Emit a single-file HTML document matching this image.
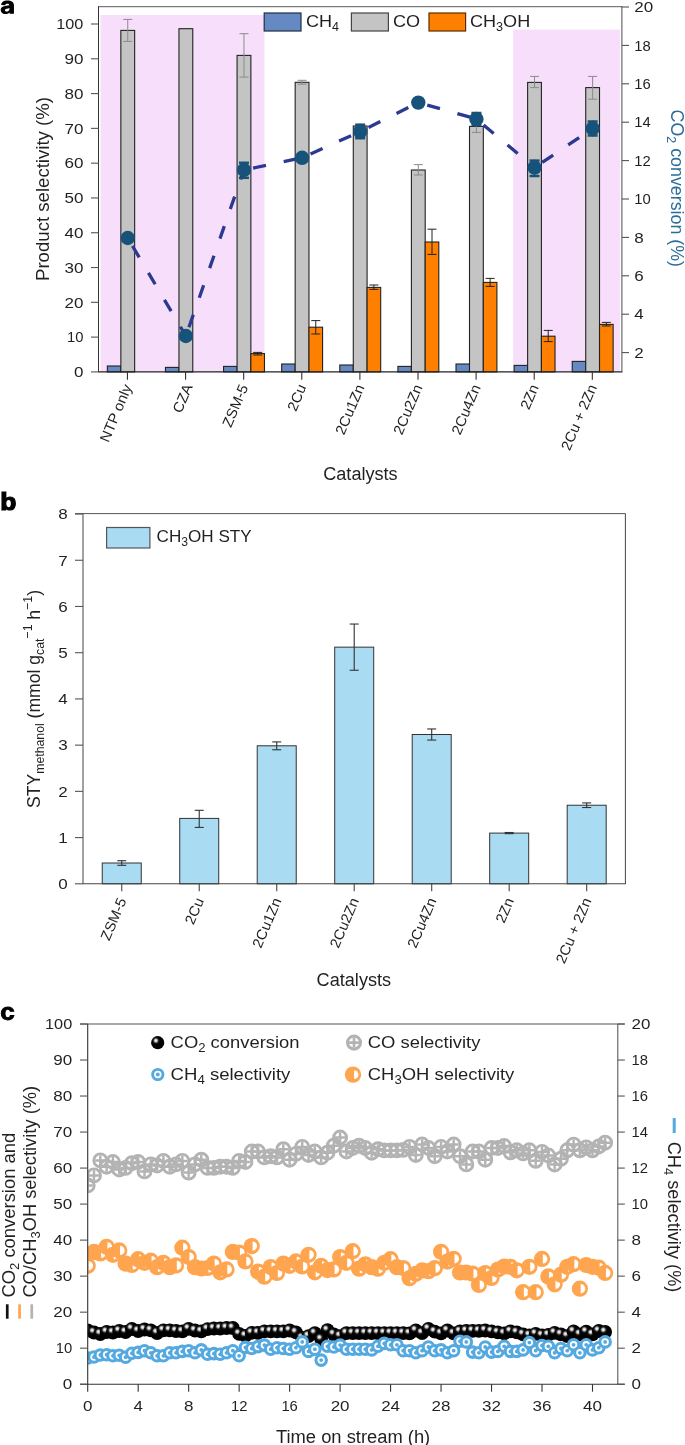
<!DOCTYPE html>
<html><head><meta charset="utf-8"><style>
html,body{margin:0;padding:0;background:#fff;}
svg{display:block;font-family:"Liberation Sans",sans-serif;will-change:transform;}
</style></head><body>
<svg width="685" height="1445" viewBox="0 0 685 1445">
<rect width="685" height="1445" fill="#fff"/>
<rect x="100.50" y="15.00" width="164.00" height="356.60" fill="#f7dffc" />
<rect x="513.20" y="29.60" width="106.80" height="342.00" fill="#f7dffc" />
<rect x="107.35" y="366.00" width="13.50" height="5.90" fill="#6589c3" stroke="#222" stroke-width="1.1" />
<rect x="120.85" y="30.40" width="13.80" height="341.50" fill="#c4c4c4" stroke="#222" stroke-width="1.1" />
<line x1="127.75" y1="19.40" x2="127.75" y2="41.40" stroke="#8a8a8a" stroke-width="1" />
<line x1="123.25" y1="19.40" x2="132.25" y2="19.40" stroke="#8a8a8a" stroke-width="1" />
<line x1="123.25" y1="41.40" x2="132.25" y2="41.40" stroke="#8a8a8a" stroke-width="1" />
<rect x="165.46" y="367.40" width="13.50" height="4.50" fill="#6589c3" stroke="#222" stroke-width="1.1" />
<rect x="178.96" y="28.70" width="13.80" height="343.20" fill="#c4c4c4" stroke="#222" stroke-width="1.1" />
<rect x="223.57" y="366.40" width="13.50" height="5.50" fill="#6589c3" stroke="#222" stroke-width="1.1" />
<rect x="237.07" y="55.40" width="13.80" height="316.50" fill="#c4c4c4" stroke="#222" stroke-width="1.1" />
<line x1="243.97" y1="33.70" x2="243.97" y2="77.10" stroke="#8a8a8a" stroke-width="1" />
<line x1="239.47" y1="33.70" x2="248.47" y2="33.70" stroke="#8a8a8a" stroke-width="1" />
<line x1="239.47" y1="77.10" x2="248.47" y2="77.10" stroke="#8a8a8a" stroke-width="1" />
<rect x="250.87" y="353.60" width="13.60" height="18.30" fill="#ff8000" stroke="#222" stroke-width="1.1" />
<line x1="257.67" y1="352.40" x2="257.67" y2="355.00" stroke="#222" stroke-width="1" />
<line x1="253.17" y1="352.40" x2="262.17" y2="352.40" stroke="#222" stroke-width="1" />
<line x1="253.17" y1="355.00" x2="262.17" y2="355.00" stroke="#222" stroke-width="1" />
<rect x="281.68" y="364.00" width="13.50" height="7.90" fill="#6589c3" stroke="#222" stroke-width="1.1" />
<rect x="295.18" y="82.30" width="13.80" height="289.60" fill="#c4c4c4" stroke="#222" stroke-width="1.1" />
<line x1="302.08" y1="80.30" x2="302.08" y2="84.20" stroke="#8a8a8a" stroke-width="1" />
<line x1="297.58" y1="80.30" x2="306.58" y2="80.30" stroke="#8a8a8a" stroke-width="1" />
<line x1="297.58" y1="84.20" x2="306.58" y2="84.20" stroke="#8a8a8a" stroke-width="1" />
<rect x="308.98" y="327.20" width="13.60" height="44.70" fill="#ff8000" stroke="#222" stroke-width="1.1" />
<line x1="315.78" y1="320.60" x2="315.78" y2="334.00" stroke="#222" stroke-width="1" />
<line x1="311.28" y1="320.60" x2="320.28" y2="320.60" stroke="#222" stroke-width="1" />
<line x1="311.28" y1="334.00" x2="320.28" y2="334.00" stroke="#222" stroke-width="1" />
<rect x="339.79" y="365.00" width="13.50" height="6.90" fill="#6589c3" stroke="#222" stroke-width="1.1" />
<rect x="353.29" y="126.00" width="13.80" height="245.90" fill="#c4c4c4" stroke="#222" stroke-width="1.1" />
<rect x="367.09" y="287.40" width="13.60" height="84.50" fill="#ff8000" stroke="#222" stroke-width="1.1" />
<line x1="373.89" y1="285.00" x2="373.89" y2="289.40" stroke="#222" stroke-width="1" />
<line x1="369.39" y1="285.00" x2="378.39" y2="285.00" stroke="#222" stroke-width="1" />
<line x1="369.39" y1="289.40" x2="378.39" y2="289.40" stroke="#222" stroke-width="1" />
<rect x="397.90" y="366.40" width="13.50" height="5.50" fill="#6589c3" stroke="#222" stroke-width="1.1" />
<rect x="411.40" y="170.00" width="13.80" height="201.90" fill="#c4c4c4" stroke="#222" stroke-width="1.1" />
<line x1="418.30" y1="164.60" x2="418.30" y2="175.00" stroke="#8a8a8a" stroke-width="1" />
<line x1="413.80" y1="164.60" x2="422.80" y2="164.60" stroke="#8a8a8a" stroke-width="1" />
<line x1="413.80" y1="175.00" x2="422.80" y2="175.00" stroke="#8a8a8a" stroke-width="1" />
<rect x="425.20" y="242.00" width="13.60" height="129.90" fill="#ff8000" stroke="#222" stroke-width="1.1" />
<line x1="432.00" y1="229.20" x2="432.00" y2="254.40" stroke="#222" stroke-width="1" />
<line x1="427.50" y1="229.20" x2="436.50" y2="229.20" stroke="#222" stroke-width="1" />
<line x1="427.50" y1="254.40" x2="436.50" y2="254.40" stroke="#222" stroke-width="1" />
<rect x="456.01" y="364.00" width="13.50" height="7.90" fill="#6589c3" stroke="#222" stroke-width="1.1" />
<rect x="469.51" y="126.40" width="13.80" height="245.50" fill="#c4c4c4" stroke="#222" stroke-width="1.1" />
<line x1="476.41" y1="120.50" x2="476.41" y2="132.40" stroke="#8a8a8a" stroke-width="1" />
<line x1="471.91" y1="120.50" x2="480.91" y2="120.50" stroke="#8a8a8a" stroke-width="1" />
<line x1="471.91" y1="132.40" x2="480.91" y2="132.40" stroke="#8a8a8a" stroke-width="1" />
<rect x="483.31" y="282.40" width="13.60" height="89.50" fill="#ff8000" stroke="#222" stroke-width="1.1" />
<line x1="490.11" y1="278.40" x2="490.11" y2="286.40" stroke="#222" stroke-width="1" />
<line x1="485.61" y1="278.40" x2="494.61" y2="278.40" stroke="#222" stroke-width="1" />
<line x1="485.61" y1="286.40" x2="494.61" y2="286.40" stroke="#222" stroke-width="1" />
<rect x="514.12" y="365.40" width="13.50" height="6.50" fill="#6589c3" stroke="#222" stroke-width="1.1" />
<rect x="527.62" y="82.40" width="13.80" height="289.50" fill="#c4c4c4" stroke="#222" stroke-width="1.1" />
<line x1="534.52" y1="76.40" x2="534.52" y2="87.60" stroke="#8a8a8a" stroke-width="1" />
<line x1="530.02" y1="76.40" x2="539.02" y2="76.40" stroke="#8a8a8a" stroke-width="1" />
<line x1="530.02" y1="87.60" x2="539.02" y2="87.60" stroke="#8a8a8a" stroke-width="1" />
<rect x="541.42" y="336.20" width="13.60" height="35.70" fill="#ff8000" stroke="#222" stroke-width="1.1" />
<line x1="548.22" y1="330.40" x2="548.22" y2="341.60" stroke="#222" stroke-width="1" />
<line x1="543.72" y1="330.40" x2="552.72" y2="330.40" stroke="#222" stroke-width="1" />
<line x1="543.72" y1="341.60" x2="552.72" y2="341.60" stroke="#222" stroke-width="1" />
<rect x="572.23" y="361.40" width="13.50" height="10.50" fill="#6589c3" stroke="#222" stroke-width="1.1" />
<rect x="585.73" y="87.60" width="13.80" height="284.30" fill="#c4c4c4" stroke="#222" stroke-width="1.1" />
<line x1="592.63" y1="76.40" x2="592.63" y2="99.20" stroke="#8a8a8a" stroke-width="1" />
<line x1="588.13" y1="76.40" x2="597.13" y2="76.40" stroke="#8a8a8a" stroke-width="1" />
<line x1="588.13" y1="99.20" x2="597.13" y2="99.20" stroke="#8a8a8a" stroke-width="1" />
<rect x="599.53" y="324.40" width="13.60" height="47.50" fill="#ff8000" stroke="#222" stroke-width="1.1" />
<line x1="606.33" y1="322.40" x2="606.33" y2="326.00" stroke="#222" stroke-width="1" />
<line x1="601.83" y1="322.40" x2="610.83" y2="322.40" stroke="#222" stroke-width="1" />
<line x1="601.83" y1="326.00" x2="610.83" y2="326.00" stroke="#222" stroke-width="1" />
<line x1="127.75" y1="238.00" x2="185.86" y2="336.00" stroke="#2b3990" stroke-width="3.3" stroke-dasharray="13.2 18.1" stroke-dashoffset="22"/>
<line x1="185.86" y1="336.00" x2="243.97" y2="170.00" stroke="#2b3990" stroke-width="3.3" stroke-dasharray="13.2 18.1" stroke-dashoffset="22"/>
<line x1="243.97" y1="170.00" x2="302.08" y2="157.80" stroke="#2b3990" stroke-width="3.3" stroke-dasharray="13.2 18.1" stroke-dashoffset="22"/>
<line x1="302.08" y1="157.80" x2="360.19" y2="131.60" stroke="#2b3990" stroke-width="3.3" stroke-dasharray="13.2 18.1" stroke-dashoffset="22"/>
<line x1="360.19" y1="131.60" x2="418.30" y2="102.60" stroke="#2b3990" stroke-width="3.3" stroke-dasharray="13.2 18.1" stroke-dashoffset="22"/>
<line x1="418.30" y1="102.60" x2="476.41" y2="119.00" stroke="#2b3990" stroke-width="3.3" stroke-dasharray="13.2 18.1" stroke-dashoffset="22"/>
<line x1="476.41" y1="119.00" x2="534.52" y2="167.60" stroke="#2b3990" stroke-width="3.3" stroke-dasharray="13.2 18.1" stroke-dashoffset="22"/>
<line x1="534.52" y1="167.60" x2="592.63" y2="128.50" stroke="#2b3990" stroke-width="3.3" stroke-dasharray="13.2 18.1" stroke-dashoffset="22"/>
<circle cx="127.75" cy="238.00" r="7.2" fill="#17527a"/>
<circle cx="185.86" cy="336.00" r="7.2" fill="#17527a"/>
<line x1="243.97" y1="161.80" x2="243.97" y2="178.80" stroke="#17527a" stroke-width="1.5" />
<line x1="238.97" y1="162.80" x2="248.97" y2="162.80" stroke="#17527a" stroke-width="2.5" />
<line x1="238.97" y1="177.80" x2="248.97" y2="177.80" stroke="#17527a" stroke-width="2.5" />
<circle cx="243.97" cy="170.00" r="7.2" fill="#17527a"/>
<circle cx="302.08" cy="157.80" r="7.2" fill="#17527a"/>
<line x1="360.19" y1="123.70" x2="360.19" y2="139.20" stroke="#17527a" stroke-width="1.5" />
<line x1="355.19" y1="124.70" x2="365.19" y2="124.70" stroke="#17527a" stroke-width="2.5" />
<line x1="355.19" y1="138.20" x2="365.19" y2="138.20" stroke="#17527a" stroke-width="2.5" />
<circle cx="360.19" cy="131.60" r="7.2" fill="#17527a"/>
<circle cx="418.30" cy="102.60" r="7.2" fill="#17527a"/>
<line x1="476.41" y1="112.00" x2="476.41" y2="126.00" stroke="#17527a" stroke-width="1.5" />
<line x1="471.41" y1="113.00" x2="481.41" y2="113.00" stroke="#17527a" stroke-width="2.5" />
<line x1="471.41" y1="125.00" x2="481.41" y2="125.00" stroke="#17527a" stroke-width="2.5" />
<circle cx="476.41" cy="119.00" r="7.2" fill="#17527a"/>
<line x1="534.52" y1="159.60" x2="534.52" y2="177.00" stroke="#17527a" stroke-width="1.5" />
<line x1="529.52" y1="160.60" x2="539.52" y2="160.60" stroke="#17527a" stroke-width="2.5" />
<line x1="529.52" y1="176.00" x2="539.52" y2="176.00" stroke="#17527a" stroke-width="2.5" />
<circle cx="534.52" cy="167.60" r="7.2" fill="#17527a"/>
<line x1="592.63" y1="120.50" x2="592.63" y2="136.50" stroke="#17527a" stroke-width="1.5" />
<line x1="587.63" y1="121.50" x2="597.63" y2="121.50" stroke="#17527a" stroke-width="2.5" />
<line x1="587.63" y1="135.50" x2="597.63" y2="135.50" stroke="#17527a" stroke-width="2.5" />
<circle cx="592.63" cy="128.50" r="7.2" fill="#17527a"/>
<line x1="98.00" y1="6.70" x2="622.00" y2="6.70" stroke="#5a5a5a" stroke-width="1.0" />
<line x1="98.50" y1="6.20" x2="98.50" y2="371.60" stroke="#333" stroke-width="1.0" />
<line x1="621.90" y1="6.20" x2="621.90" y2="371.60" stroke="#4a4a4a" stroke-width="1.0" />
<line x1="98.00" y1="371.90" x2="622.40" y2="371.90" stroke="#222" stroke-width="1.1" />
<line x1="91.00" y1="371.90" x2="98.50" y2="371.90" stroke="#555" stroke-width="1.1" />
<text transform="translate(83.40,377.14) scale(1.15,1)" font-size="14.8" text-anchor="end" fill="#231f20">0</text>
<line x1="91.00" y1="337.11" x2="98.50" y2="337.11" stroke="#555" stroke-width="1.1" />
<text transform="translate(83.40,342.35)" font-size="14.8" text-anchor="end" fill="#231f20">10</text>
<line x1="91.00" y1="302.32" x2="98.50" y2="302.32" stroke="#555" stroke-width="1.1" />
<text transform="translate(83.40,307.56) scale(1.15,1)" font-size="14.8" text-anchor="end" fill="#231f20">20</text>
<line x1="91.00" y1="267.53" x2="98.50" y2="267.53" stroke="#555" stroke-width="1.1" />
<text transform="translate(83.40,272.77) scale(1.15,1)" font-size="14.8" text-anchor="end" fill="#231f20">30</text>
<line x1="91.00" y1="232.74" x2="98.50" y2="232.74" stroke="#555" stroke-width="1.1" />
<text transform="translate(83.40,237.98) scale(1.15,1)" font-size="14.8" text-anchor="end" fill="#231f20">40</text>
<line x1="91.00" y1="197.95" x2="98.50" y2="197.95" stroke="#555" stroke-width="1.1" />
<text transform="translate(83.40,203.19) scale(1.15,1)" font-size="14.8" text-anchor="end" fill="#231f20">50</text>
<line x1="91.00" y1="163.16" x2="98.50" y2="163.16" stroke="#555" stroke-width="1.1" />
<text transform="translate(83.40,168.40) scale(1.15,1)" font-size="14.8" text-anchor="end" fill="#231f20">60</text>
<line x1="91.00" y1="128.37" x2="98.50" y2="128.37" stroke="#555" stroke-width="1.1" />
<text transform="translate(83.40,133.61) scale(1.15,1)" font-size="14.8" text-anchor="end" fill="#231f20">70</text>
<line x1="91.00" y1="93.58" x2="98.50" y2="93.58" stroke="#555" stroke-width="1.1" />
<text transform="translate(83.40,98.82) scale(1.15,1)" font-size="14.8" text-anchor="end" fill="#231f20">80</text>
<line x1="91.00" y1="58.79" x2="98.50" y2="58.79" stroke="#555" stroke-width="1.1" />
<text transform="translate(83.40,64.03) scale(1.15,1)" font-size="14.8" text-anchor="end" fill="#231f20">90</text>
<line x1="91.00" y1="24.00" x2="98.50" y2="24.00" stroke="#555" stroke-width="1.1" />
<text transform="translate(83.40,29.24) scale(1.1,1)" font-size="14.8" text-anchor="end" fill="#231f20">100</text>
<line x1="621.90" y1="352.60" x2="629.00" y2="352.60" stroke="#555" stroke-width="1.1" />
<text transform="translate(634.20,357.84) scale(1.15,1)" font-size="14.8" text-anchor="start" fill="#231f20">2</text>
<line x1="621.90" y1="314.20" x2="629.00" y2="314.20" stroke="#555" stroke-width="1.1" />
<text transform="translate(634.20,319.44) scale(1.15,1)" font-size="14.8" text-anchor="start" fill="#231f20">4</text>
<line x1="621.90" y1="275.80" x2="629.00" y2="275.80" stroke="#555" stroke-width="1.1" />
<text transform="translate(634.20,281.04) scale(1.15,1)" font-size="14.8" text-anchor="start" fill="#231f20">6</text>
<line x1="621.90" y1="237.40" x2="629.00" y2="237.40" stroke="#555" stroke-width="1.1" />
<text transform="translate(634.20,242.64) scale(1.15,1)" font-size="14.8" text-anchor="start" fill="#231f20">8</text>
<line x1="621.90" y1="199.00" x2="629.00" y2="199.00" stroke="#555" stroke-width="1.1" />
<text transform="translate(634.20,204.24)" font-size="14.8" text-anchor="start" fill="#231f20">10</text>
<line x1="621.90" y1="160.60" x2="629.00" y2="160.60" stroke="#555" stroke-width="1.1" />
<text transform="translate(634.20,165.84)" font-size="14.8" text-anchor="start" fill="#231f20">12</text>
<line x1="621.90" y1="122.20" x2="629.00" y2="122.20" stroke="#555" stroke-width="1.1" />
<text transform="translate(634.20,127.44)" font-size="14.8" text-anchor="start" fill="#231f20">14</text>
<line x1="621.90" y1="83.80" x2="629.00" y2="83.80" stroke="#555" stroke-width="1.1" />
<text transform="translate(634.20,89.04)" font-size="14.8" text-anchor="start" fill="#231f20">16</text>
<line x1="621.90" y1="45.40" x2="629.00" y2="45.40" stroke="#555" stroke-width="1.1" />
<text transform="translate(634.20,50.64)" font-size="14.8" text-anchor="start" fill="#231f20">18</text>
<line x1="621.90" y1="7.00" x2="629.00" y2="7.00" stroke="#555" stroke-width="1.1" />
<text transform="translate(634.20,12.24) scale(1.15,1)" font-size="14.8" text-anchor="start" fill="#231f20">20</text>
<line x1="127.45" y1="372.00" x2="127.45" y2="379.80" stroke="#333" stroke-width="1.1" />
<text transform="translate(132.25,387.00) rotate(-67) scale(1.035,1)" font-size="14.4" text-anchor="end" fill="#231f20">NTP only</text>
<line x1="185.56" y1="372.00" x2="185.56" y2="379.80" stroke="#333" stroke-width="1.1" />
<text transform="translate(192.86,386.50) rotate(-67) scale(1.035,1)" font-size="14.4" text-anchor="end" fill="#231f20">CZA</text>
<line x1="243.67" y1="372.00" x2="243.67" y2="379.80" stroke="#333" stroke-width="1.1" />
<text transform="translate(248.47,387.00) rotate(-67) scale(1.035,1)" font-size="14.4" text-anchor="end" fill="#231f20">ZSM-5</text>
<line x1="301.78" y1="372.00" x2="301.78" y2="379.80" stroke="#333" stroke-width="1.1" />
<text transform="translate(306.58,387.00) rotate(-67) scale(1.035,1)" font-size="14.4" text-anchor="end" fill="#231f20">2Cu</text>
<line x1="359.89" y1="372.00" x2="359.89" y2="379.80" stroke="#333" stroke-width="1.1" />
<text transform="translate(364.69,387.00) rotate(-67) scale(1.035,1)" font-size="14.4" text-anchor="end" fill="#231f20">2Cu1Zn</text>
<line x1="418.00" y1="372.00" x2="418.00" y2="379.80" stroke="#333" stroke-width="1.1" />
<text transform="translate(422.80,387.00) rotate(-67) scale(1.035,1)" font-size="14.4" text-anchor="end" fill="#231f20">2Cu2Zn</text>
<line x1="476.11" y1="372.00" x2="476.11" y2="379.80" stroke="#333" stroke-width="1.1" />
<text transform="translate(480.91,387.00) rotate(-67) scale(1.035,1)" font-size="14.4" text-anchor="end" fill="#231f20">2Cu4Zn</text>
<line x1="534.22" y1="372.00" x2="534.22" y2="379.80" stroke="#333" stroke-width="1.1" />
<text transform="translate(539.02,387.00) rotate(-67) scale(1.035,1)" font-size="14.4" text-anchor="end" fill="#231f20">2Zn</text>
<line x1="592.33" y1="372.00" x2="592.33" y2="379.80" stroke="#333" stroke-width="1.1" />
<text transform="translate(597.13,387.00) rotate(-67) scale(1.035,1)" font-size="14.4" text-anchor="end" fill="#231f20">2Cu + 2Zn</text>
<rect x="264.20" y="13.00" width="36.80" height="18.00" fill="#6589c3" stroke="#1f2d40" stroke-width="1.2" />
<text transform="translate(306.00,27.40) scale(1.05,1)" font-size="17.2" text-anchor="start" fill="#231f20">CH<tspan font-size="12" dy="4">4</tspan></text>
<rect x="351.40" y="13.00" width="37.00" height="18.00" fill="#c4c4c4" stroke="#444" stroke-width="1.2" />
<text transform="translate(393.00,27.40) scale(1.05,1)" font-size="17.2" text-anchor="start" fill="#231f20">CO</text>
<rect x="429.00" y="13.00" width="36.60" height="18.00" fill="#ff8000" stroke="#5a2d00" stroke-width="1.2" />
<text transform="translate(470.00,27.40) scale(1.05,1)" font-size="17.2" text-anchor="start" fill="#231f20">CH<tspan font-size="12" dy="4">3</tspan><tspan dy="-4">OH</tspan></text>
<text transform="translate(49.2,281) rotate(-90)" font-size="17.6" fill="#231f20" textLength="184" lengthAdjust="spacingAndGlyphs">Product selectivity (%)</text>
<text transform="translate(671.20,109.60) rotate(90) scale(0.99,1)" font-size="18" text-anchor="start" fill="#2c6c99">CO<tspan font-size="12.5" dy="4">2</tspan><tspan dy="-4"> conversion (%)</tspan></text>
<text x="323.20" y="479.80" font-size="18" text-anchor="start" fill="#231f20" textLength="74.5" lengthAdjust="spacingAndGlyphs" >Catalysts</text>
<path fill="#000" fill-rule="evenodd" d="M1.2,4.9 C1.4,1.9 4,0.5 7.3,0.5 C11.4,0.5 13.95,2.1 13.95,5.3 L13.95,13.7 L9.7,13.7 L9.55,12.4 C8.5,13.5 6.9,14.1 5,14.1 C2.3,14.1 0.7,12.4 0.7,10.1 C0.7,7.1 3.1,6.2 6.1,5.8 L9.35,5.35 C9.35,4.25 8.7,3.75 7.3,3.75 C5.9,3.75 5.35,4.35 5.25,5.3 Z M9.45,8.1 C8.7,8.45 7.7,8.6 6.7,8.8 C5.65,9 5.0,9.45 5.0,10.25 C5.0,11.05 5.6,11.5 6.6,11.5 C8.3,11.5 9.45,10.4 9.45,8.9 Z"/>
<rect x="102.25" y="863.00" width="39.00" height="20.80" fill="#a9dbf2" stroke="#333" stroke-width="1" />
<line x1="121.75" y1="860.69" x2="121.75" y2="865.31" stroke="#333" stroke-width="1.1" />
<line x1="117.25" y1="860.69" x2="126.25" y2="860.69" stroke="#333" stroke-width="1.1" />
<line x1="117.25" y1="865.31" x2="126.25" y2="865.31" stroke="#333" stroke-width="1.1" />
<rect x="179.73" y="818.40" width="39.00" height="65.40" fill="#a9dbf2" stroke="#333" stroke-width="1" />
<line x1="199.23" y1="810.31" x2="199.23" y2="827.41" stroke="#333" stroke-width="1.1" />
<line x1="194.73" y1="810.31" x2="203.73" y2="810.31" stroke="#333" stroke-width="1.1" />
<line x1="194.73" y1="827.41" x2="203.73" y2="827.41" stroke="#333" stroke-width="1.1" />
<rect x="257.23" y="745.79" width="39.00" height="138.01" fill="#a9dbf2" stroke="#333" stroke-width="1" />
<line x1="276.73" y1="741.90" x2="276.73" y2="749.76" stroke="#333" stroke-width="1.1" />
<line x1="272.23" y1="741.90" x2="281.23" y2="741.90" stroke="#333" stroke-width="1.1" />
<line x1="272.23" y1="749.76" x2="281.23" y2="749.76" stroke="#333" stroke-width="1.1" />
<rect x="334.71" y="647.15" width="39.00" height="236.65" fill="#a9dbf2" stroke="#333" stroke-width="1" />
<line x1="354.21" y1="624.04" x2="354.21" y2="670.26" stroke="#333" stroke-width="1.1" />
<line x1="349.71" y1="624.04" x2="358.71" y2="624.04" stroke="#333" stroke-width="1.1" />
<line x1="349.71" y1="670.26" x2="358.71" y2="670.26" stroke="#333" stroke-width="1.1" />
<rect x="412.20" y="734.51" width="39.00" height="149.29" fill="#a9dbf2" stroke="#333" stroke-width="1" />
<line x1="431.70" y1="728.96" x2="431.70" y2="740.06" stroke="#333" stroke-width="1.1" />
<line x1="427.20" y1="728.96" x2="436.20" y2="728.96" stroke="#333" stroke-width="1.1" />
<line x1="427.20" y1="740.06" x2="436.20" y2="740.06" stroke="#333" stroke-width="1.1" />
<rect x="489.69" y="833.10" width="39.00" height="50.70" fill="#a9dbf2" stroke="#333" stroke-width="1" />
<line x1="509.19" y1="832.50" x2="509.19" y2="833.65" stroke="#333" stroke-width="1.1" />
<line x1="504.69" y1="832.50" x2="513.69" y2="832.50" stroke="#333" stroke-width="1.1" />
<line x1="504.69" y1="833.65" x2="513.69" y2="833.65" stroke="#333" stroke-width="1.1" />
<rect x="567.18" y="805.23" width="39.00" height="78.57" fill="#a9dbf2" stroke="#333" stroke-width="1" />
<line x1="586.68" y1="802.91" x2="586.68" y2="807.54" stroke="#333" stroke-width="1.1" />
<line x1="582.18" y1="802.91" x2="591.18" y2="802.91" stroke="#333" stroke-width="1.1" />
<line x1="582.18" y1="807.54" x2="591.18" y2="807.54" stroke="#333" stroke-width="1.1" />
<line x1="75.00" y1="513.60" x2="625.40" y2="513.60" stroke="#555" stroke-width="1.0" />
<line x1="83.00" y1="513.60" x2="83.00" y2="883.80" stroke="#555" stroke-width="1.1" />
<line x1="625.40" y1="513.60" x2="625.40" y2="883.80" stroke="#444" stroke-width="1.0" />
<line x1="82.50" y1="883.80" x2="625.90" y2="883.80" stroke="#444" stroke-width="1.1" />
<line x1="75.00" y1="883.80" x2="83.00" y2="883.80" stroke="#555" stroke-width="1.1" />
<text transform="translate(67.80,889.04) scale(1.15,1)" font-size="14.8" text-anchor="end" fill="#231f20">0</text>
<line x1="75.00" y1="837.58" x2="83.00" y2="837.58" stroke="#555" stroke-width="1.1" />
<text transform="translate(67.80,842.82) scale(1.15,1)" font-size="14.8" text-anchor="end" fill="#231f20">1</text>
<line x1="75.00" y1="791.36" x2="83.00" y2="791.36" stroke="#555" stroke-width="1.1" />
<text transform="translate(67.80,796.60) scale(1.15,1)" font-size="14.8" text-anchor="end" fill="#231f20">2</text>
<line x1="75.00" y1="745.14" x2="83.00" y2="745.14" stroke="#555" stroke-width="1.1" />
<text transform="translate(67.80,750.38) scale(1.15,1)" font-size="14.8" text-anchor="end" fill="#231f20">3</text>
<line x1="75.00" y1="698.92" x2="83.00" y2="698.92" stroke="#555" stroke-width="1.1" />
<text transform="translate(67.80,704.16) scale(1.15,1)" font-size="14.8" text-anchor="end" fill="#231f20">4</text>
<line x1="75.00" y1="652.70" x2="83.00" y2="652.70" stroke="#555" stroke-width="1.1" />
<text transform="translate(67.80,657.94) scale(1.15,1)" font-size="14.8" text-anchor="end" fill="#231f20">5</text>
<line x1="75.00" y1="606.48" x2="83.00" y2="606.48" stroke="#555" stroke-width="1.1" />
<text transform="translate(67.80,611.72) scale(1.15,1)" font-size="14.8" text-anchor="end" fill="#231f20">6</text>
<line x1="75.00" y1="560.26" x2="83.00" y2="560.26" stroke="#555" stroke-width="1.1" />
<text transform="translate(67.80,565.50) scale(1.15,1)" font-size="14.8" text-anchor="end" fill="#231f20">7</text>
<line x1="75.00" y1="514.04" x2="83.00" y2="514.04" stroke="#555" stroke-width="1.1" />
<text transform="translate(67.80,519.28) scale(1.15,1)" font-size="14.8" text-anchor="end" fill="#231f20">8</text>
<line x1="121.75" y1="883.80" x2="121.75" y2="891.30" stroke="#444" stroke-width="1.1" />
<text transform="translate(126.75,900.50) rotate(-67) scale(1.03,1)" font-size="14.4" text-anchor="end" fill="#231f20">ZSM-5</text>
<line x1="199.23" y1="883.80" x2="199.23" y2="891.30" stroke="#444" stroke-width="1.1" />
<text transform="translate(204.23,900.50) rotate(-67) scale(1.03,1)" font-size="14.4" text-anchor="end" fill="#231f20">2Cu</text>
<line x1="276.73" y1="883.80" x2="276.73" y2="891.30" stroke="#444" stroke-width="1.1" />
<text transform="translate(281.73,900.50) rotate(-67) scale(1.03,1)" font-size="14.4" text-anchor="end" fill="#231f20">2Cu1Zn</text>
<line x1="354.21" y1="883.80" x2="354.21" y2="891.30" stroke="#444" stroke-width="1.1" />
<text transform="translate(359.21,900.50) rotate(-67) scale(1.03,1)" font-size="14.4" text-anchor="end" fill="#231f20">2Cu2Zn</text>
<line x1="431.70" y1="883.80" x2="431.70" y2="891.30" stroke="#444" stroke-width="1.1" />
<text transform="translate(436.70,900.50) rotate(-67) scale(1.03,1)" font-size="14.4" text-anchor="end" fill="#231f20">2Cu4Zn</text>
<line x1="509.19" y1="883.80" x2="509.19" y2="891.30" stroke="#444" stroke-width="1.1" />
<text transform="translate(514.19,900.50) rotate(-67) scale(1.03,1)" font-size="14.4" text-anchor="end" fill="#231f20">2Zn</text>
<line x1="586.68" y1="883.80" x2="586.68" y2="891.30" stroke="#444" stroke-width="1.1" />
<text transform="translate(591.68,900.50) rotate(-67) scale(1.03,1)" font-size="14.4" text-anchor="end" fill="#231f20">2Cu + 2Zn</text>
<rect x="106.60" y="527.50" width="43.30" height="20.50" fill="#a9dbf2" stroke="#555" stroke-width="1.2" />
<text transform="translate(156.60,541.60) scale(1.018,1)" font-size="16.8" text-anchor="start" fill="#231f20">CH<tspan font-size="12" dy="4">3</tspan><tspan dy="-4">OH STY</tspan></text>
<text transform="translate(39.8,808) rotate(-90)" font-size="18.6" fill="#231f20" textLength="218" lengthAdjust="spacingAndGlyphs">STY<tspan font-size="13" dy="4">methanol</tspan><tspan dy="-4"> (mmol g</tspan><tspan font-size="13" dy="4">cat</tspan><tspan font-size="13" dy="-12">−1</tspan><tspan dy="8"> h</tspan><tspan font-size="13" dy="-8">−1</tspan><tspan dy="8">)</tspan></text>
<text x="316.60" y="986.30" font-size="18" text-anchor="start" fill="#231f20" textLength="74.5" lengthAdjust="spacingAndGlyphs" >Catalysts</text>
<text transform="translate(0.2,510.3) scale(1.1,1)" font-size="24" font-weight="bold" fill="#000" stroke="#000" stroke-width="1.2">b</text>
<defs><clipPath id="cclip"><rect x="87.7" y="1024" width="530.1" height="360.2"/></clipPath><radialGradient id="sph" cx="0.38" cy="0.36" r="0.62" fx="0.36" fy="0.33"><stop offset="0" stop-color="#ffffff"/><stop offset="0.14" stop-color="#d0d0d0"/><stop offset="0.34" stop-color="#1a1a1a"/><stop offset="0.5" stop-color="#000"/><stop offset="1" stop-color="#000"/></radialGradient></defs>
<g clip-path="url(#cclip)">
<circle cx="87.70" cy="1185.40" r="6.5" fill="none" stroke="#b3b3b3" stroke-width="2.9"/><path d="M82.65,1185.40H92.75M87.70,1180.35V1190.45" stroke="#b3b3b3" stroke-width="2.46"/>
<circle cx="94.01" cy="1175.40" r="6.5" fill="none" stroke="#b3b3b3" stroke-width="2.9"/><path d="M88.96,1175.40H99.06M94.01,1170.35V1180.45" stroke="#b3b3b3" stroke-width="2.46"/>
<circle cx="100.32" cy="1160.40" r="6.5" fill="none" stroke="#b3b3b3" stroke-width="2.9"/><path d="M95.27,1160.40H105.37M100.32,1155.35V1165.45" stroke="#b3b3b3" stroke-width="2.46"/>
<circle cx="106.63" cy="1166.70" r="6.5" fill="none" stroke="#b3b3b3" stroke-width="2.9"/><path d="M101.58,1166.70H111.68M106.63,1161.65V1171.75" stroke="#b3b3b3" stroke-width="2.46"/>
<circle cx="112.94" cy="1162.00" r="6.5" fill="none" stroke="#b3b3b3" stroke-width="2.9"/><path d="M107.89,1162.00H117.99M112.94,1156.95V1167.05" stroke="#b3b3b3" stroke-width="2.46"/>
<circle cx="119.25" cy="1169.50" r="6.5" fill="none" stroke="#b3b3b3" stroke-width="2.9"/><path d="M114.20,1169.50H124.30M119.25,1164.45V1174.55" stroke="#b3b3b3" stroke-width="2.46"/>
<circle cx="125.56" cy="1167.90" r="6.5" fill="none" stroke="#b3b3b3" stroke-width="2.9"/><path d="M120.51,1167.90H130.61M125.56,1162.85V1172.95" stroke="#b3b3b3" stroke-width="2.46"/>
<circle cx="131.87" cy="1163.20" r="6.5" fill="none" stroke="#b3b3b3" stroke-width="2.9"/><path d="M126.82,1163.20H136.92M131.87,1158.15V1168.25" stroke="#b3b3b3" stroke-width="2.46"/>
<circle cx="138.18" cy="1162.00" r="6.5" fill="none" stroke="#b3b3b3" stroke-width="2.9"/><path d="M133.13,1162.00H143.23M138.18,1156.95V1167.05" stroke="#b3b3b3" stroke-width="2.46"/>
<circle cx="144.49" cy="1171.40" r="6.5" fill="none" stroke="#b3b3b3" stroke-width="2.9"/><path d="M139.44,1171.40H149.54M144.49,1166.35V1176.45" stroke="#b3b3b3" stroke-width="2.46"/>
<circle cx="150.80" cy="1164.40" r="6.5" fill="none" stroke="#b3b3b3" stroke-width="2.9"/><path d="M145.75,1164.40H155.85M150.80,1159.35V1169.45" stroke="#b3b3b3" stroke-width="2.46"/>
<circle cx="157.11" cy="1165.50" r="6.5" fill="none" stroke="#b3b3b3" stroke-width="2.9"/><path d="M152.06,1165.50H162.16M157.11,1160.45V1170.55" stroke="#b3b3b3" stroke-width="2.46"/>
<circle cx="163.42" cy="1160.90" r="6.5" fill="none" stroke="#b3b3b3" stroke-width="2.9"/><path d="M158.37,1160.90H168.47M163.42,1155.85V1165.95" stroke="#b3b3b3" stroke-width="2.46"/>
<circle cx="169.73" cy="1166.70" r="6.5" fill="none" stroke="#b3b3b3" stroke-width="2.9"/><path d="M164.68,1166.70H174.78M169.73,1161.65V1171.75" stroke="#b3b3b3" stroke-width="2.46"/>
<circle cx="176.04" cy="1164.40" r="6.5" fill="none" stroke="#b3b3b3" stroke-width="2.9"/><path d="M170.99,1164.40H181.09M176.04,1159.35V1169.45" stroke="#b3b3b3" stroke-width="2.46"/>
<circle cx="182.35" cy="1160.90" r="6.5" fill="none" stroke="#b3b3b3" stroke-width="2.9"/><path d="M177.30,1160.90H187.40M182.35,1155.85V1165.95" stroke="#b3b3b3" stroke-width="2.46"/>
<circle cx="188.66" cy="1172.60" r="6.5" fill="none" stroke="#b3b3b3" stroke-width="2.9"/><path d="M183.61,1172.60H193.71M188.66,1167.55V1177.65" stroke="#b3b3b3" stroke-width="2.46"/>
<circle cx="194.97" cy="1164.40" r="6.5" fill="none" stroke="#b3b3b3" stroke-width="2.9"/><path d="M189.92,1164.40H200.02M194.97,1159.35V1169.45" stroke="#b3b3b3" stroke-width="2.46"/>
<circle cx="201.28" cy="1159.70" r="6.5" fill="none" stroke="#b3b3b3" stroke-width="2.9"/><path d="M196.23,1159.70H206.33M201.28,1154.65V1164.75" stroke="#b3b3b3" stroke-width="2.46"/>
<circle cx="207.59" cy="1167.90" r="6.5" fill="none" stroke="#b3b3b3" stroke-width="2.9"/><path d="M202.54,1167.90H212.64M207.59,1162.85V1172.95" stroke="#b3b3b3" stroke-width="2.46"/>
<circle cx="213.90" cy="1167.90" r="6.5" fill="none" stroke="#b3b3b3" stroke-width="2.9"/><path d="M208.85,1167.90H218.95M213.90,1162.85V1172.95" stroke="#b3b3b3" stroke-width="2.46"/>
<circle cx="220.21" cy="1166.70" r="6.5" fill="none" stroke="#b3b3b3" stroke-width="2.9"/><path d="M215.16,1166.70H225.26M220.21,1161.65V1171.75" stroke="#b3b3b3" stroke-width="2.46"/>
<circle cx="226.52" cy="1166.70" r="6.5" fill="none" stroke="#b3b3b3" stroke-width="2.9"/><path d="M221.47,1166.70H231.57M226.52,1161.65V1171.75" stroke="#b3b3b3" stroke-width="2.46"/>
<circle cx="232.83" cy="1167.90" r="6.5" fill="none" stroke="#b3b3b3" stroke-width="2.9"/><path d="M227.78,1167.90H237.88M232.83,1162.85V1172.95" stroke="#b3b3b3" stroke-width="2.46"/>
<circle cx="239.14" cy="1160.90" r="6.5" fill="none" stroke="#b3b3b3" stroke-width="2.9"/><path d="M234.09,1160.90H244.19M239.14,1155.85V1165.95" stroke="#b3b3b3" stroke-width="2.46"/>
<circle cx="245.45" cy="1162.00" r="6.5" fill="none" stroke="#b3b3b3" stroke-width="2.9"/><path d="M240.40,1162.00H250.50M245.45,1156.95V1167.05" stroke="#b3b3b3" stroke-width="2.46"/>
<circle cx="251.76" cy="1151.50" r="6.5" fill="none" stroke="#b3b3b3" stroke-width="2.9"/><path d="M246.71,1151.50H256.81M251.76,1146.45V1156.55" stroke="#b3b3b3" stroke-width="2.46"/>
<circle cx="258.07" cy="1151.50" r="6.5" fill="none" stroke="#b3b3b3" stroke-width="2.9"/><path d="M253.02,1151.50H263.12M258.07,1146.45V1156.55" stroke="#b3b3b3" stroke-width="2.46"/>
<circle cx="264.38" cy="1157.40" r="6.5" fill="none" stroke="#b3b3b3" stroke-width="2.9"/><path d="M259.33,1157.40H269.43M264.38,1152.35V1162.45" stroke="#b3b3b3" stroke-width="2.46"/>
<circle cx="270.69" cy="1156.20" r="6.5" fill="none" stroke="#b3b3b3" stroke-width="2.9"/><path d="M265.64,1156.20H275.74M270.69,1151.15V1161.25" stroke="#b3b3b3" stroke-width="2.46"/>
<circle cx="277.00" cy="1157.40" r="6.5" fill="none" stroke="#b3b3b3" stroke-width="2.9"/><path d="M271.95,1157.40H282.05M277.00,1152.35V1162.45" stroke="#b3b3b3" stroke-width="2.46"/>
<circle cx="283.31" cy="1149.20" r="6.5" fill="none" stroke="#b3b3b3" stroke-width="2.9"/><path d="M278.26,1149.20H288.36M283.31,1144.15V1154.25" stroke="#b3b3b3" stroke-width="2.46"/>
<circle cx="289.62" cy="1159.70" r="6.5" fill="none" stroke="#b3b3b3" stroke-width="2.9"/><path d="M284.57,1159.70H294.67M289.62,1154.65V1164.75" stroke="#b3b3b3" stroke-width="2.46"/>
<circle cx="295.93" cy="1153.90" r="6.5" fill="none" stroke="#b3b3b3" stroke-width="2.9"/><path d="M290.88,1153.90H300.98M295.93,1148.85V1158.95" stroke="#b3b3b3" stroke-width="2.46"/>
<circle cx="302.24" cy="1146.90" r="6.5" fill="none" stroke="#b3b3b3" stroke-width="2.9"/><path d="M297.19,1146.90H307.29M302.24,1141.85V1151.95" stroke="#b3b3b3" stroke-width="2.46"/>
<circle cx="308.55" cy="1155.00" r="6.5" fill="none" stroke="#b3b3b3" stroke-width="2.9"/><path d="M303.50,1155.00H313.60M308.55,1149.95V1160.05" stroke="#b3b3b3" stroke-width="2.46"/>
<circle cx="314.86" cy="1151.50" r="6.5" fill="none" stroke="#b3b3b3" stroke-width="2.9"/><path d="M309.81,1151.50H319.91M314.86,1146.45V1156.55" stroke="#b3b3b3" stroke-width="2.46"/>
<circle cx="321.17" cy="1157.40" r="6.5" fill="none" stroke="#b3b3b3" stroke-width="2.9"/><path d="M316.12,1157.40H326.22M321.17,1152.35V1162.45" stroke="#b3b3b3" stroke-width="2.46"/>
<circle cx="327.48" cy="1152.70" r="6.5" fill="none" stroke="#b3b3b3" stroke-width="2.9"/><path d="M322.43,1152.70H332.53M327.48,1147.65V1157.75" stroke="#b3b3b3" stroke-width="2.46"/>
<circle cx="333.79" cy="1145.70" r="6.5" fill="none" stroke="#b3b3b3" stroke-width="2.9"/><path d="M328.74,1145.70H338.84M333.79,1140.65V1150.75" stroke="#b3b3b3" stroke-width="2.46"/>
<circle cx="340.10" cy="1137.50" r="6.5" fill="none" stroke="#b3b3b3" stroke-width="2.9"/><path d="M335.05,1137.50H345.15M340.10,1132.45V1142.55" stroke="#b3b3b3" stroke-width="2.46"/>
<circle cx="346.41" cy="1151.50" r="6.5" fill="none" stroke="#b3b3b3" stroke-width="2.9"/><path d="M341.36,1151.50H351.46M346.41,1146.45V1156.55" stroke="#b3b3b3" stroke-width="2.46"/>
<circle cx="352.72" cy="1148.00" r="6.5" fill="none" stroke="#b3b3b3" stroke-width="2.9"/><path d="M347.67,1148.00H357.77M352.72,1142.95V1153.05" stroke="#b3b3b3" stroke-width="2.46"/>
<circle cx="359.03" cy="1145.70" r="6.5" fill="none" stroke="#b3b3b3" stroke-width="2.9"/><path d="M353.98,1145.70H364.08M359.03,1140.65V1150.75" stroke="#b3b3b3" stroke-width="2.46"/>
<circle cx="365.34" cy="1148.00" r="6.5" fill="none" stroke="#b3b3b3" stroke-width="2.9"/><path d="M360.29,1148.00H370.39M365.34,1142.95V1153.05" stroke="#b3b3b3" stroke-width="2.46"/>
<circle cx="371.65" cy="1152.70" r="6.5" fill="none" stroke="#b3b3b3" stroke-width="2.9"/><path d="M366.60,1152.70H376.70M371.65,1147.65V1157.75" stroke="#b3b3b3" stroke-width="2.46"/>
<circle cx="377.96" cy="1149.20" r="6.5" fill="none" stroke="#b3b3b3" stroke-width="2.9"/><path d="M372.91,1149.20H383.01M377.96,1144.15V1154.25" stroke="#b3b3b3" stroke-width="2.46"/>
<circle cx="384.27" cy="1150.40" r="6.5" fill="none" stroke="#b3b3b3" stroke-width="2.9"/><path d="M379.22,1150.40H389.32M384.27,1145.35V1155.45" stroke="#b3b3b3" stroke-width="2.46"/>
<circle cx="390.58" cy="1150.40" r="6.5" fill="none" stroke="#b3b3b3" stroke-width="2.9"/><path d="M385.53,1150.40H395.63M390.58,1145.35V1155.45" stroke="#b3b3b3" stroke-width="2.46"/>
<circle cx="396.89" cy="1150.40" r="6.5" fill="none" stroke="#b3b3b3" stroke-width="2.9"/><path d="M391.84,1150.40H401.94M396.89,1145.35V1155.45" stroke="#b3b3b3" stroke-width="2.46"/>
<circle cx="403.20" cy="1149.90" r="6.5" fill="none" stroke="#b3b3b3" stroke-width="2.9"/><path d="M398.15,1149.90H408.25M403.20,1144.85V1154.95" stroke="#b3b3b3" stroke-width="2.46"/>
<circle cx="409.51" cy="1146.90" r="6.5" fill="none" stroke="#b3b3b3" stroke-width="2.9"/><path d="M404.46,1146.90H414.56M409.51,1141.85V1151.95" stroke="#b3b3b3" stroke-width="2.46"/>
<circle cx="415.82" cy="1155.00" r="6.5" fill="none" stroke="#b3b3b3" stroke-width="2.9"/><path d="M410.77,1155.00H420.87M415.82,1149.95V1160.05" stroke="#b3b3b3" stroke-width="2.46"/>
<circle cx="422.13" cy="1144.50" r="6.5" fill="none" stroke="#b3b3b3" stroke-width="2.9"/><path d="M417.08,1144.50H427.18M422.13,1139.45V1149.55" stroke="#b3b3b3" stroke-width="2.46"/>
<circle cx="428.44" cy="1148.00" r="6.5" fill="none" stroke="#b3b3b3" stroke-width="2.9"/><path d="M423.39,1148.00H433.49M428.44,1142.95V1153.05" stroke="#b3b3b3" stroke-width="2.46"/>
<circle cx="434.75" cy="1156.20" r="6.5" fill="none" stroke="#b3b3b3" stroke-width="2.9"/><path d="M429.70,1156.20H439.80M434.75,1151.15V1161.25" stroke="#b3b3b3" stroke-width="2.46"/>
<circle cx="441.06" cy="1146.90" r="6.5" fill="none" stroke="#b3b3b3" stroke-width="2.9"/><path d="M436.01,1146.90H446.11M441.06,1141.85V1151.95" stroke="#b3b3b3" stroke-width="2.46"/>
<circle cx="447.37" cy="1151.50" r="6.5" fill="none" stroke="#b3b3b3" stroke-width="2.9"/><path d="M442.32,1151.50H452.42M447.37,1146.45V1156.55" stroke="#b3b3b3" stroke-width="2.46"/>
<circle cx="453.68" cy="1144.50" r="6.5" fill="none" stroke="#b3b3b3" stroke-width="2.9"/><path d="M448.63,1144.50H458.73M453.68,1139.45V1149.55" stroke="#b3b3b3" stroke-width="2.46"/>
<circle cx="459.99" cy="1156.20" r="6.5" fill="none" stroke="#b3b3b3" stroke-width="2.9"/><path d="M454.94,1156.20H465.04M459.99,1151.15V1161.25" stroke="#b3b3b3" stroke-width="2.46"/>
<circle cx="466.30" cy="1164.40" r="6.5" fill="none" stroke="#b3b3b3" stroke-width="2.9"/><path d="M461.25,1164.40H471.35M466.30,1159.35V1169.45" stroke="#b3b3b3" stroke-width="2.46"/>
<circle cx="472.61" cy="1151.50" r="6.5" fill="none" stroke="#b3b3b3" stroke-width="2.9"/><path d="M467.56,1151.50H477.66M472.61,1146.45V1156.55" stroke="#b3b3b3" stroke-width="2.46"/>
<circle cx="478.92" cy="1151.50" r="6.5" fill="none" stroke="#b3b3b3" stroke-width="2.9"/><path d="M473.87,1151.50H483.97M478.92,1146.45V1156.55" stroke="#b3b3b3" stroke-width="2.46"/>
<circle cx="485.23" cy="1159.70" r="6.5" fill="none" stroke="#b3b3b3" stroke-width="2.9"/><path d="M480.18,1159.70H490.28M485.23,1154.65V1164.75" stroke="#b3b3b3" stroke-width="2.46"/>
<circle cx="491.54" cy="1148.00" r="6.5" fill="none" stroke="#b3b3b3" stroke-width="2.9"/><path d="M486.49,1148.00H496.59M491.54,1142.95V1153.05" stroke="#b3b3b3" stroke-width="2.46"/>
<circle cx="497.85" cy="1148.00" r="6.5" fill="none" stroke="#b3b3b3" stroke-width="2.9"/><path d="M492.80,1148.00H502.90M497.85,1142.95V1153.05" stroke="#b3b3b3" stroke-width="2.46"/>
<circle cx="504.16" cy="1146.00" r="6.5" fill="none" stroke="#b3b3b3" stroke-width="2.9"/><path d="M499.11,1146.00H509.21M504.16,1140.95V1151.05" stroke="#b3b3b3" stroke-width="2.46"/>
<circle cx="510.47" cy="1152.30" r="6.5" fill="none" stroke="#b3b3b3" stroke-width="2.9"/><path d="M505.42,1152.30H515.52M510.47,1147.25V1157.35" stroke="#b3b3b3" stroke-width="2.46"/>
<circle cx="516.78" cy="1150.30" r="6.5" fill="none" stroke="#b3b3b3" stroke-width="2.9"/><path d="M511.73,1150.30H521.83M516.78,1145.25V1155.35" stroke="#b3b3b3" stroke-width="2.46"/>
<circle cx="523.09" cy="1153.40" r="6.5" fill="none" stroke="#b3b3b3" stroke-width="2.9"/><path d="M518.04,1153.40H528.14M523.09,1148.35V1158.45" stroke="#b3b3b3" stroke-width="2.46"/>
<circle cx="529.40" cy="1150.30" r="6.5" fill="none" stroke="#b3b3b3" stroke-width="2.9"/><path d="M524.35,1150.30H534.45M529.40,1145.25V1155.35" stroke="#b3b3b3" stroke-width="2.46"/>
<circle cx="535.71" cy="1160.80" r="6.5" fill="none" stroke="#b3b3b3" stroke-width="2.9"/><path d="M530.66,1160.80H540.76M535.71,1155.75V1165.85" stroke="#b3b3b3" stroke-width="2.46"/>
<circle cx="542.02" cy="1151.90" r="6.5" fill="none" stroke="#b3b3b3" stroke-width="2.9"/><path d="M536.97,1151.90H547.07M542.02,1146.85V1156.95" stroke="#b3b3b3" stroke-width="2.46"/>
<circle cx="548.33" cy="1155.50" r="6.5" fill="none" stroke="#b3b3b3" stroke-width="2.9"/><path d="M543.28,1155.50H553.38M548.33,1150.45V1160.55" stroke="#b3b3b3" stroke-width="2.46"/>
<circle cx="554.64" cy="1164.50" r="6.5" fill="none" stroke="#b3b3b3" stroke-width="2.9"/><path d="M549.59,1164.50H559.69M554.64,1159.45V1169.55" stroke="#b3b3b3" stroke-width="2.46"/>
<circle cx="560.95" cy="1158.80" r="6.5" fill="none" stroke="#b3b3b3" stroke-width="2.9"/><path d="M555.90,1158.80H566.00M560.95,1153.75V1163.85" stroke="#b3b3b3" stroke-width="2.46"/>
<circle cx="567.26" cy="1150.30" r="6.5" fill="none" stroke="#b3b3b3" stroke-width="2.9"/><path d="M562.21,1150.30H572.31M567.26,1145.25V1155.35" stroke="#b3b3b3" stroke-width="2.46"/>
<circle cx="573.57" cy="1144.60" r="6.5" fill="none" stroke="#b3b3b3" stroke-width="2.9"/><path d="M568.52,1144.60H578.62M573.57,1139.55V1149.65" stroke="#b3b3b3" stroke-width="2.46"/>
<circle cx="579.88" cy="1150.30" r="6.5" fill="none" stroke="#b3b3b3" stroke-width="2.9"/><path d="M574.83,1150.30H584.93M579.88,1145.25V1155.35" stroke="#b3b3b3" stroke-width="2.46"/>
<circle cx="586.19" cy="1147.40" r="6.5" fill="none" stroke="#b3b3b3" stroke-width="2.9"/><path d="M581.14,1147.40H591.24M586.19,1142.35V1152.45" stroke="#b3b3b3" stroke-width="2.46"/>
<circle cx="592.50" cy="1150.30" r="6.5" fill="none" stroke="#b3b3b3" stroke-width="2.9"/><path d="M587.45,1150.30H597.55M592.50,1145.25V1155.35" stroke="#b3b3b3" stroke-width="2.46"/>
<circle cx="598.81" cy="1146.50" r="6.5" fill="none" stroke="#b3b3b3" stroke-width="2.9"/><path d="M593.76,1146.50H603.86M598.81,1141.45V1151.55" stroke="#b3b3b3" stroke-width="2.46"/>
<circle cx="605.12" cy="1142.70" r="6.5" fill="none" stroke="#b3b3b3" stroke-width="2.9"/><path d="M600.07,1142.70H610.17M605.12,1137.65V1147.75" stroke="#b3b3b3" stroke-width="2.46"/>
<circle cx="87.70" cy="1265.80" r="8.1" fill="#ffa54f"/><path d="M88.50,1261.20A4.6,4.6 0 0 1 88.50,1270.40Z" fill="#fff"/>
<circle cx="94.01" cy="1251.90" r="8.1" fill="#ffa54f"/><path d="M94.81,1247.30A4.6,4.6 0 0 1 94.81,1256.50Z" fill="#fff"/>
<circle cx="100.32" cy="1253.40" r="8.1" fill="#ffa54f"/><path d="M101.12,1248.80A4.6,4.6 0 0 1 101.12,1258.00Z" fill="#fff"/>
<circle cx="106.63" cy="1246.80" r="8.1" fill="#ffa54f"/><path d="M107.43,1242.20A4.6,4.6 0 0 1 107.43,1251.40Z" fill="#fff"/>
<circle cx="112.94" cy="1254.80" r="8.1" fill="#ffa54f"/><path d="M113.74,1250.20A4.6,4.6 0 0 1 113.74,1259.40Z" fill="#fff"/>
<circle cx="119.25" cy="1250.40" r="8.1" fill="#ffa54f"/><path d="M120.05,1245.80A4.6,4.6 0 0 1 120.05,1255.00Z" fill="#fff"/>
<circle cx="125.56" cy="1263.60" r="8.1" fill="#ffa54f"/><path d="M126.36,1259.00A4.6,4.6 0 0 1 126.36,1268.20Z" fill="#fff"/>
<circle cx="131.87" cy="1265.00" r="8.1" fill="#ffa54f"/><path d="M132.67,1260.40A4.6,4.6 0 0 1 132.67,1269.60Z" fill="#fff"/>
<circle cx="138.18" cy="1259.20" r="8.1" fill="#ffa54f"/><path d="M138.98,1254.60A4.6,4.6 0 0 1 138.98,1263.80Z" fill="#fff"/>
<circle cx="144.49" cy="1262.80" r="8.1" fill="#ffa54f"/><path d="M145.29,1258.20A4.6,4.6 0 0 1 145.29,1267.40Z" fill="#fff"/>
<circle cx="150.80" cy="1260.70" r="8.1" fill="#ffa54f"/><path d="M151.60,1256.10A4.6,4.6 0 0 1 151.60,1265.30Z" fill="#fff"/>
<circle cx="157.11" cy="1267.20" r="8.1" fill="#ffa54f"/><path d="M157.91,1262.60A4.6,4.6 0 0 1 157.91,1271.80Z" fill="#fff"/>
<circle cx="163.42" cy="1262.80" r="8.1" fill="#ffa54f"/><path d="M164.22,1258.20A4.6,4.6 0 0 1 164.22,1267.40Z" fill="#fff"/>
<circle cx="169.73" cy="1267.20" r="8.1" fill="#ffa54f"/><path d="M170.53,1262.60A4.6,4.6 0 0 1 170.53,1271.80Z" fill="#fff"/>
<circle cx="176.04" cy="1265.40" r="8.1" fill="#ffa54f"/><path d="M176.84,1260.80A4.6,4.6 0 0 1 176.84,1270.00Z" fill="#fff"/>
<circle cx="182.35" cy="1247.70" r="8.1" fill="#ffa54f"/><path d="M183.15,1243.10A4.6,4.6 0 0 1 183.15,1252.30Z" fill="#fff"/>
<circle cx="188.66" cy="1257.00" r="8.1" fill="#ffa54f"/><path d="M189.46,1252.40A4.6,4.6 0 0 1 189.46,1261.60Z" fill="#fff"/>
<circle cx="194.97" cy="1267.20" r="8.1" fill="#ffa54f"/><path d="M195.77,1262.60A4.6,4.6 0 0 1 195.77,1271.80Z" fill="#fff"/>
<circle cx="201.28" cy="1268.50" r="8.1" fill="#ffa54f"/><path d="M202.08,1263.90A4.6,4.6 0 0 1 202.08,1273.10Z" fill="#fff"/>
<circle cx="207.59" cy="1268.00" r="8.1" fill="#ffa54f"/><path d="M208.39,1263.40A4.6,4.6 0 0 1 208.39,1272.60Z" fill="#fff"/>
<circle cx="213.90" cy="1263.60" r="8.1" fill="#ffa54f"/><path d="M214.70,1259.00A4.6,4.6 0 0 1 214.70,1268.20Z" fill="#fff"/>
<circle cx="220.21" cy="1272.30" r="8.1" fill="#ffa54f"/><path d="M221.01,1267.70A4.6,4.6 0 0 1 221.01,1276.90Z" fill="#fff"/>
<circle cx="226.52" cy="1269.40" r="8.1" fill="#ffa54f"/><path d="M227.32,1264.80A4.6,4.6 0 0 1 227.32,1274.00Z" fill="#fff"/>
<circle cx="232.83" cy="1251.90" r="8.1" fill="#ffa54f"/><path d="M233.63,1247.30A4.6,4.6 0 0 1 233.63,1256.50Z" fill="#fff"/>
<circle cx="239.14" cy="1252.60" r="8.1" fill="#ffa54f"/><path d="M239.94,1248.00A4.6,4.6 0 0 1 239.94,1257.20Z" fill="#fff"/>
<circle cx="245.45" cy="1261.40" r="8.1" fill="#ffa54f"/><path d="M246.25,1256.80A4.6,4.6 0 0 1 246.25,1266.00Z" fill="#fff"/>
<circle cx="251.76" cy="1246.10" r="8.1" fill="#ffa54f"/><path d="M252.56,1241.50A4.6,4.6 0 0 1 252.56,1250.70Z" fill="#fff"/>
<circle cx="258.07" cy="1271.60" r="8.1" fill="#ffa54f"/><path d="M258.87,1267.00A4.6,4.6 0 0 1 258.87,1276.20Z" fill="#fff"/>
<circle cx="264.38" cy="1276.70" r="8.1" fill="#ffa54f"/><path d="M265.18,1272.10A4.6,4.6 0 0 1 265.18,1281.30Z" fill="#fff"/>
<circle cx="270.69" cy="1267.00" r="8.1" fill="#ffa54f"/><path d="M271.49,1262.40A4.6,4.6 0 0 1 271.49,1271.60Z" fill="#fff"/>
<circle cx="277.00" cy="1273.00" r="8.1" fill="#ffa54f"/><path d="M277.80,1268.40A4.6,4.6 0 0 1 277.80,1277.60Z" fill="#fff"/>
<circle cx="283.31" cy="1263.60" r="8.1" fill="#ffa54f"/><path d="M284.11,1259.00A4.6,4.6 0 0 1 284.11,1268.20Z" fill="#fff"/>
<circle cx="289.62" cy="1265.80" r="8.1" fill="#ffa54f"/><path d="M290.42,1261.20A4.6,4.6 0 0 1 290.42,1270.40Z" fill="#fff"/>
<circle cx="295.93" cy="1261.40" r="8.1" fill="#ffa54f"/><path d="M296.73,1256.80A4.6,4.6 0 0 1 296.73,1266.00Z" fill="#fff"/>
<circle cx="302.24" cy="1266.50" r="8.1" fill="#ffa54f"/><path d="M303.04,1261.90A4.6,4.6 0 0 1 303.04,1271.10Z" fill="#fff"/>
<circle cx="308.55" cy="1254.80" r="8.1" fill="#ffa54f"/><path d="M309.35,1250.20A4.6,4.6 0 0 1 309.35,1259.40Z" fill="#fff"/>
<circle cx="314.86" cy="1272.30" r="8.1" fill="#ffa54f"/><path d="M315.66,1267.70A4.6,4.6 0 0 1 315.66,1276.90Z" fill="#fff"/>
<circle cx="321.17" cy="1265.80" r="8.1" fill="#ffa54f"/><path d="M321.97,1261.20A4.6,4.6 0 0 1 321.97,1270.40Z" fill="#fff"/>
<circle cx="327.48" cy="1270.10" r="8.1" fill="#ffa54f"/><path d="M328.28,1265.50A4.6,4.6 0 0 1 328.28,1274.70Z" fill="#fff"/>
<circle cx="333.79" cy="1269.40" r="8.1" fill="#ffa54f"/><path d="M334.59,1264.80A4.6,4.6 0 0 1 334.59,1274.00Z" fill="#fff"/>
<circle cx="340.10" cy="1257.00" r="8.1" fill="#ffa54f"/><path d="M340.90,1252.40A4.6,4.6 0 0 1 340.90,1261.60Z" fill="#fff"/>
<circle cx="346.41" cy="1262.80" r="8.1" fill="#ffa54f"/><path d="M347.21,1258.20A4.6,4.6 0 0 1 347.21,1267.40Z" fill="#fff"/>
<circle cx="352.72" cy="1251.20" r="8.1" fill="#ffa54f"/><path d="M353.52,1246.60A4.6,4.6 0 0 1 353.52,1255.80Z" fill="#fff"/>
<circle cx="359.03" cy="1268.70" r="8.1" fill="#ffa54f"/><path d="M359.83,1264.10A4.6,4.6 0 0 1 359.83,1273.30Z" fill="#fff"/>
<circle cx="365.34" cy="1264.30" r="8.1" fill="#ffa54f"/><path d="M366.14,1259.70A4.6,4.6 0 0 1 366.14,1268.90Z" fill="#fff"/>
<circle cx="371.65" cy="1267.20" r="8.1" fill="#ffa54f"/><path d="M372.45,1262.60A4.6,4.6 0 0 1 372.45,1271.80Z" fill="#fff"/>
<circle cx="377.96" cy="1268.70" r="8.1" fill="#ffa54f"/><path d="M378.76,1264.10A4.6,4.6 0 0 1 378.76,1273.30Z" fill="#fff"/>
<circle cx="384.27" cy="1262.80" r="8.1" fill="#ffa54f"/><path d="M385.07,1258.20A4.6,4.6 0 0 1 385.07,1267.40Z" fill="#fff"/>
<circle cx="390.58" cy="1259.20" r="8.1" fill="#ffa54f"/><path d="M391.38,1254.60A4.6,4.6 0 0 1 391.38,1263.80Z" fill="#fff"/>
<circle cx="396.89" cy="1267.20" r="8.1" fill="#ffa54f"/><path d="M397.69,1262.60A4.6,4.6 0 0 1 397.69,1271.80Z" fill="#fff"/>
<circle cx="403.20" cy="1268.00" r="8.1" fill="#ffa54f"/><path d="M404.00,1263.40A4.6,4.6 0 0 1 404.00,1272.60Z" fill="#fff"/>
<circle cx="409.51" cy="1278.20" r="8.1" fill="#ffa54f"/><path d="M410.31,1273.60A4.6,4.6 0 0 1 410.31,1282.80Z" fill="#fff"/>
<circle cx="415.82" cy="1273.80" r="8.1" fill="#ffa54f"/><path d="M416.62,1269.20A4.6,4.6 0 0 1 416.62,1278.40Z" fill="#fff"/>
<circle cx="422.13" cy="1270.40" r="8.1" fill="#ffa54f"/><path d="M422.93,1265.80A4.6,4.6 0 0 1 422.93,1275.00Z" fill="#fff"/>
<circle cx="428.44" cy="1271.20" r="8.1" fill="#ffa54f"/><path d="M429.24,1266.60A4.6,4.6 0 0 1 429.24,1275.80Z" fill="#fff"/>
<circle cx="434.75" cy="1268.20" r="8.1" fill="#ffa54f"/><path d="M435.55,1263.60A4.6,4.6 0 0 1 435.55,1272.80Z" fill="#fff"/>
<circle cx="441.06" cy="1251.80" r="8.1" fill="#ffa54f"/><path d="M441.86,1247.20A4.6,4.6 0 0 1 441.86,1256.40Z" fill="#fff"/>
<circle cx="447.37" cy="1261.60" r="8.1" fill="#ffa54f"/><path d="M448.17,1257.00A4.6,4.6 0 0 1 448.17,1266.20Z" fill="#fff"/>
<circle cx="453.68" cy="1258.80" r="8.1" fill="#ffa54f"/><path d="M454.48,1254.20A4.6,4.6 0 0 1 454.48,1263.40Z" fill="#fff"/>
<circle cx="459.99" cy="1272.50" r="8.1" fill="#ffa54f"/><path d="M460.79,1267.90A4.6,4.6 0 0 1 460.79,1277.10Z" fill="#fff"/>
<circle cx="466.30" cy="1272.50" r="8.1" fill="#ffa54f"/><path d="M467.10,1267.90A4.6,4.6 0 0 1 467.10,1277.10Z" fill="#fff"/>
<circle cx="472.61" cy="1273.70" r="8.1" fill="#ffa54f"/><path d="M473.41,1269.10A4.6,4.6 0 0 1 473.41,1278.30Z" fill="#fff"/>
<circle cx="478.92" cy="1285.00" r="8.1" fill="#ffa54f"/><path d="M479.72,1280.40A4.6,4.6 0 0 1 479.72,1289.60Z" fill="#fff"/>
<circle cx="485.23" cy="1273.00" r="8.1" fill="#ffa54f"/><path d="M486.03,1268.40A4.6,4.6 0 0 1 486.03,1277.60Z" fill="#fff"/>
<circle cx="491.54" cy="1278.00" r="8.1" fill="#ffa54f"/><path d="M492.34,1273.40A4.6,4.6 0 0 1 492.34,1282.60Z" fill="#fff"/>
<circle cx="497.85" cy="1269.60" r="8.1" fill="#ffa54f"/><path d="M498.65,1265.00A4.6,4.6 0 0 1 498.65,1274.20Z" fill="#fff"/>
<circle cx="504.16" cy="1266.60" r="8.1" fill="#ffa54f"/><path d="M504.96,1262.00A4.6,4.6 0 0 1 504.96,1271.20Z" fill="#fff"/>
<circle cx="510.47" cy="1266.80" r="8.1" fill="#ffa54f"/><path d="M511.27,1262.20A4.6,4.6 0 0 1 511.27,1271.40Z" fill="#fff"/>
<circle cx="516.78" cy="1270.30" r="8.1" fill="#ffa54f"/><path d="M517.58,1265.70A4.6,4.6 0 0 1 517.58,1274.90Z" fill="#fff"/>
<circle cx="523.09" cy="1292.20" r="8.1" fill="#ffa54f"/><path d="M523.89,1287.60A4.6,4.6 0 0 1 523.89,1296.80Z" fill="#fff"/>
<circle cx="529.40" cy="1266.80" r="8.1" fill="#ffa54f"/><path d="M530.20,1262.20A4.6,4.6 0 0 1 530.20,1271.40Z" fill="#fff"/>
<circle cx="535.71" cy="1292.20" r="8.1" fill="#ffa54f"/><path d="M536.51,1287.60A4.6,4.6 0 0 1 536.51,1296.80Z" fill="#fff"/>
<circle cx="542.02" cy="1258.90" r="8.1" fill="#ffa54f"/><path d="M542.82,1254.30A4.6,4.6 0 0 1 542.82,1263.50Z" fill="#fff"/>
<circle cx="548.33" cy="1276.40" r="8.1" fill="#ffa54f"/><path d="M549.13,1271.80A4.6,4.6 0 0 1 549.13,1281.00Z" fill="#fff"/>
<circle cx="554.64" cy="1284.30" r="8.1" fill="#ffa54f"/><path d="M555.44,1279.70A4.6,4.6 0 0 1 555.44,1288.90Z" fill="#fff"/>
<circle cx="560.95" cy="1274.70" r="8.1" fill="#ffa54f"/><path d="M561.75,1270.10A4.6,4.6 0 0 1 561.75,1279.30Z" fill="#fff"/>
<circle cx="567.26" cy="1266.80" r="8.1" fill="#ffa54f"/><path d="M568.06,1262.20A4.6,4.6 0 0 1 568.06,1271.40Z" fill="#fff"/>
<circle cx="573.57" cy="1264.20" r="8.1" fill="#ffa54f"/><path d="M574.37,1259.60A4.6,4.6 0 0 1 574.37,1268.80Z" fill="#fff"/>
<circle cx="579.88" cy="1288.70" r="8.1" fill="#ffa54f"/><path d="M580.68,1284.10A4.6,4.6 0 0 1 580.68,1293.30Z" fill="#fff"/>
<circle cx="586.19" cy="1265.00" r="8.1" fill="#ffa54f"/><path d="M586.99,1260.40A4.6,4.6 0 0 1 586.99,1269.60Z" fill="#fff"/>
<circle cx="592.50" cy="1266.80" r="8.1" fill="#ffa54f"/><path d="M593.30,1262.20A4.6,4.6 0 0 1 593.30,1271.40Z" fill="#fff"/>
<circle cx="598.81" cy="1267.70" r="8.1" fill="#ffa54f"/><path d="M599.61,1263.10A4.6,4.6 0 0 1 599.61,1272.30Z" fill="#fff"/>
<circle cx="605.12" cy="1272.90" r="8.1" fill="#ffa54f"/><path d="M605.92,1268.30A4.6,4.6 0 0 1 605.92,1277.50Z" fill="#fff"/>
<circle cx="87.70" cy="1330.50" r="6.9" fill="url(#sph)"/>
<circle cx="94.01" cy="1332.50" r="6.9" fill="url(#sph)"/>
<circle cx="100.32" cy="1334.00" r="6.9" fill="url(#sph)"/>
<circle cx="106.63" cy="1332.00" r="6.9" fill="url(#sph)"/>
<circle cx="112.94" cy="1332.50" r="6.9" fill="url(#sph)"/>
<circle cx="119.25" cy="1331.00" r="6.9" fill="url(#sph)"/>
<circle cx="125.56" cy="1332.00" r="6.9" fill="url(#sph)"/>
<circle cx="131.87" cy="1329.00" r="6.9" fill="url(#sph)"/>
<circle cx="138.18" cy="1331.00" r="6.9" fill="url(#sph)"/>
<circle cx="144.49" cy="1329.50" r="6.9" fill="url(#sph)"/>
<circle cx="150.80" cy="1330.30" r="6.9" fill="url(#sph)"/>
<circle cx="157.11" cy="1333.00" r="6.9" fill="url(#sph)"/>
<circle cx="163.42" cy="1330.30" r="6.9" fill="url(#sph)"/>
<circle cx="169.73" cy="1330.30" r="6.9" fill="url(#sph)"/>
<circle cx="176.04" cy="1331.00" r="6.9" fill="url(#sph)"/>
<circle cx="182.35" cy="1331.40" r="6.9" fill="url(#sph)"/>
<circle cx="188.66" cy="1328.80" r="6.9" fill="url(#sph)"/>
<circle cx="194.97" cy="1330.50" r="6.9" fill="url(#sph)"/>
<circle cx="201.28" cy="1331.40" r="6.9" fill="url(#sph)"/>
<circle cx="207.59" cy="1329.10" r="6.9" fill="url(#sph)"/>
<circle cx="213.90" cy="1328.50" r="6.9" fill="url(#sph)"/>
<circle cx="220.21" cy="1328.50" r="6.9" fill="url(#sph)"/>
<circle cx="226.52" cy="1328.00" r="6.9" fill="url(#sph)"/>
<circle cx="232.83" cy="1328.00" r="6.9" fill="url(#sph)"/>
<circle cx="239.14" cy="1333.90" r="6.9" fill="url(#sph)"/>
<circle cx="245.45" cy="1335.80" r="6.9" fill="url(#sph)"/>
<circle cx="251.76" cy="1332.90" r="6.9" fill="url(#sph)"/>
<circle cx="258.07" cy="1332.90" r="6.9" fill="url(#sph)"/>
<circle cx="264.38" cy="1331.40" r="6.9" fill="url(#sph)"/>
<circle cx="270.69" cy="1331.40" r="6.9" fill="url(#sph)"/>
<circle cx="277.00" cy="1331.40" r="6.9" fill="url(#sph)"/>
<circle cx="283.31" cy="1331.40" r="6.9" fill="url(#sph)"/>
<circle cx="289.62" cy="1330.50" r="6.9" fill="url(#sph)"/>
<circle cx="295.93" cy="1332.40" r="6.9" fill="url(#sph)"/>
<circle cx="302.24" cy="1338.00" r="6.9" fill="url(#sph)"/>
<circle cx="308.55" cy="1336.10" r="6.9" fill="url(#sph)"/>
<circle cx="314.86" cy="1333.20" r="6.9" fill="url(#sph)"/>
<circle cx="321.17" cy="1339.30" r="6.9" fill="url(#sph)"/>
<circle cx="327.48" cy="1330.20" r="6.9" fill="url(#sph)"/>
<circle cx="333.79" cy="1334.30" r="6.9" fill="url(#sph)"/>
<circle cx="340.10" cy="1336.10" r="6.9" fill="url(#sph)"/>
<circle cx="346.41" cy="1333.20" r="6.9" fill="url(#sph)"/>
<circle cx="352.72" cy="1333.20" r="6.9" fill="url(#sph)"/>
<circle cx="359.03" cy="1333.20" r="6.9" fill="url(#sph)"/>
<circle cx="365.34" cy="1333.20" r="6.9" fill="url(#sph)"/>
<circle cx="371.65" cy="1333.10" r="6.9" fill="url(#sph)"/>
<circle cx="377.96" cy="1333.10" r="6.9" fill="url(#sph)"/>
<circle cx="384.27" cy="1333.10" r="6.9" fill="url(#sph)"/>
<circle cx="390.58" cy="1333.10" r="6.9" fill="url(#sph)"/>
<circle cx="396.89" cy="1333.10" r="6.9" fill="url(#sph)"/>
<circle cx="403.20" cy="1333.10" r="6.9" fill="url(#sph)"/>
<circle cx="409.51" cy="1333.40" r="6.9" fill="url(#sph)"/>
<circle cx="415.82" cy="1330.50" r="6.9" fill="url(#sph)"/>
<circle cx="422.13" cy="1333.10" r="6.9" fill="url(#sph)"/>
<circle cx="428.44" cy="1328.80" r="6.9" fill="url(#sph)"/>
<circle cx="434.75" cy="1331.70" r="6.9" fill="url(#sph)"/>
<circle cx="441.06" cy="1333.40" r="6.9" fill="url(#sph)"/>
<circle cx="447.37" cy="1330.50" r="6.9" fill="url(#sph)"/>
<circle cx="453.68" cy="1333.40" r="6.9" fill="url(#sph)"/>
<circle cx="459.99" cy="1331.40" r="6.9" fill="url(#sph)"/>
<circle cx="466.30" cy="1331.00" r="6.9" fill="url(#sph)"/>
<circle cx="472.61" cy="1330.90" r="6.9" fill="url(#sph)"/>
<circle cx="478.92" cy="1330.90" r="6.9" fill="url(#sph)"/>
<circle cx="485.23" cy="1330.50" r="6.9" fill="url(#sph)"/>
<circle cx="491.54" cy="1331.40" r="6.9" fill="url(#sph)"/>
<circle cx="497.85" cy="1332.40" r="6.9" fill="url(#sph)"/>
<circle cx="504.16" cy="1333.40" r="6.9" fill="url(#sph)"/>
<circle cx="510.47" cy="1331.40" r="6.9" fill="url(#sph)"/>
<circle cx="516.78" cy="1332.40" r="6.9" fill="url(#sph)"/>
<circle cx="523.09" cy="1334.30" r="6.9" fill="url(#sph)"/>
<circle cx="529.40" cy="1335.30" r="6.9" fill="url(#sph)"/>
<circle cx="535.71" cy="1333.90" r="6.9" fill="url(#sph)"/>
<circle cx="542.02" cy="1335.30" r="6.9" fill="url(#sph)"/>
<circle cx="548.33" cy="1334.90" r="6.9" fill="url(#sph)"/>
<circle cx="554.64" cy="1332.80" r="6.9" fill="url(#sph)"/>
<circle cx="560.95" cy="1334.30" r="6.9" fill="url(#sph)"/>
<circle cx="567.26" cy="1336.10" r="6.9" fill="url(#sph)"/>
<circle cx="573.57" cy="1331.40" r="6.9" fill="url(#sph)"/>
<circle cx="579.88" cy="1334.30" r="6.9" fill="url(#sph)"/>
<circle cx="586.19" cy="1331.70" r="6.9" fill="url(#sph)"/>
<circle cx="592.50" cy="1334.30" r="6.9" fill="url(#sph)"/>
<circle cx="598.81" cy="1331.00" r="6.9" fill="url(#sph)"/>
<circle cx="605.12" cy="1332.00" r="6.9" fill="url(#sph)"/>
<circle cx="87.70" cy="1358.00" r="5.25" fill="#fff" stroke="#55a9e1" stroke-width="3.10"/><circle cx="87.70" cy="1358.00" r="1.9" fill="#55a9e1"/>
<circle cx="94.01" cy="1357.00" r="5.25" fill="#fff" stroke="#55a9e1" stroke-width="3.10"/><circle cx="94.01" cy="1357.00" r="1.9" fill="#55a9e1"/>
<circle cx="100.32" cy="1355.00" r="5.25" fill="#fff" stroke="#55a9e1" stroke-width="3.10"/><circle cx="100.32" cy="1355.00" r="1.9" fill="#55a9e1"/>
<circle cx="106.63" cy="1354.70" r="5.25" fill="#fff" stroke="#55a9e1" stroke-width="3.10"/><circle cx="106.63" cy="1354.70" r="1.9" fill="#55a9e1"/>
<circle cx="112.94" cy="1355.80" r="5.25" fill="#fff" stroke="#55a9e1" stroke-width="3.10"/><circle cx="112.94" cy="1355.80" r="1.9" fill="#55a9e1"/>
<circle cx="119.25" cy="1355.30" r="5.25" fill="#fff" stroke="#55a9e1" stroke-width="3.10"/><circle cx="119.25" cy="1355.30" r="1.9" fill="#55a9e1"/>
<circle cx="125.56" cy="1357.20" r="5.25" fill="#fff" stroke="#55a9e1" stroke-width="3.10"/><circle cx="125.56" cy="1357.20" r="1.9" fill="#55a9e1"/>
<circle cx="131.87" cy="1353.30" r="5.25" fill="#fff" stroke="#55a9e1" stroke-width="3.10"/><circle cx="131.87" cy="1353.30" r="1.9" fill="#55a9e1"/>
<circle cx="138.18" cy="1352.40" r="5.25" fill="#fff" stroke="#55a9e1" stroke-width="3.10"/><circle cx="138.18" cy="1352.40" r="1.9" fill="#55a9e1"/>
<circle cx="144.49" cy="1350.70" r="5.25" fill="#fff" stroke="#55a9e1" stroke-width="3.10"/><circle cx="144.49" cy="1350.70" r="1.9" fill="#55a9e1"/>
<circle cx="150.80" cy="1352.80" r="5.25" fill="#fff" stroke="#55a9e1" stroke-width="3.10"/><circle cx="150.80" cy="1352.80" r="1.9" fill="#55a9e1"/>
<circle cx="157.11" cy="1355.80" r="5.25" fill="#fff" stroke="#55a9e1" stroke-width="3.10"/><circle cx="157.11" cy="1355.80" r="1.9" fill="#55a9e1"/>
<circle cx="163.42" cy="1355.80" r="5.25" fill="#fff" stroke="#55a9e1" stroke-width="3.10"/><circle cx="163.42" cy="1355.80" r="1.9" fill="#55a9e1"/>
<circle cx="169.73" cy="1352.80" r="5.25" fill="#fff" stroke="#55a9e1" stroke-width="3.10"/><circle cx="169.73" cy="1352.80" r="1.9" fill="#55a9e1"/>
<circle cx="176.04" cy="1352.80" r="5.25" fill="#fff" stroke="#55a9e1" stroke-width="3.10"/><circle cx="176.04" cy="1352.80" r="1.9" fill="#55a9e1"/>
<circle cx="182.35" cy="1351.40" r="5.25" fill="#fff" stroke="#55a9e1" stroke-width="3.10"/><circle cx="182.35" cy="1351.40" r="1.9" fill="#55a9e1"/>
<circle cx="188.66" cy="1350.70" r="5.25" fill="#fff" stroke="#55a9e1" stroke-width="3.10"/><circle cx="188.66" cy="1350.70" r="1.9" fill="#55a9e1"/>
<circle cx="194.97" cy="1352.80" r="5.25" fill="#fff" stroke="#55a9e1" stroke-width="3.10"/><circle cx="194.97" cy="1352.80" r="1.9" fill="#55a9e1"/>
<circle cx="201.28" cy="1349.90" r="5.25" fill="#fff" stroke="#55a9e1" stroke-width="3.10"/><circle cx="201.28" cy="1349.90" r="1.9" fill="#55a9e1"/>
<circle cx="207.59" cy="1354.30" r="5.25" fill="#fff" stroke="#55a9e1" stroke-width="3.10"/><circle cx="207.59" cy="1354.30" r="1.9" fill="#55a9e1"/>
<circle cx="213.90" cy="1353.60" r="5.25" fill="#fff" stroke="#55a9e1" stroke-width="3.10"/><circle cx="213.90" cy="1353.60" r="1.9" fill="#55a9e1"/>
<circle cx="220.21" cy="1354.30" r="5.25" fill="#fff" stroke="#55a9e1" stroke-width="3.10"/><circle cx="220.21" cy="1354.30" r="1.9" fill="#55a9e1"/>
<circle cx="226.52" cy="1352.80" r="5.25" fill="#fff" stroke="#55a9e1" stroke-width="3.10"/><circle cx="226.52" cy="1352.80" r="1.9" fill="#55a9e1"/>
<circle cx="232.83" cy="1350.70" r="5.25" fill="#fff" stroke="#55a9e1" stroke-width="3.10"/><circle cx="232.83" cy="1350.70" r="1.9" fill="#55a9e1"/>
<circle cx="239.14" cy="1355.80" r="5.25" fill="#fff" stroke="#55a9e1" stroke-width="3.10"/><circle cx="239.14" cy="1355.80" r="1.9" fill="#55a9e1"/>
<circle cx="245.45" cy="1347.40" r="5.25" fill="#fff" stroke="#55a9e1" stroke-width="3.10"/><circle cx="245.45" cy="1347.40" r="1.9" fill="#55a9e1"/>
<circle cx="251.76" cy="1348.50" r="5.25" fill="#fff" stroke="#55a9e1" stroke-width="3.10"/><circle cx="251.76" cy="1348.50" r="1.9" fill="#55a9e1"/>
<circle cx="258.07" cy="1346.60" r="5.25" fill="#fff" stroke="#55a9e1" stroke-width="3.10"/><circle cx="258.07" cy="1346.60" r="1.9" fill="#55a9e1"/>
<circle cx="264.38" cy="1345.10" r="5.25" fill="#fff" stroke="#55a9e1" stroke-width="3.10"/><circle cx="264.38" cy="1345.10" r="1.9" fill="#55a9e1"/>
<circle cx="270.69" cy="1349.20" r="5.25" fill="#fff" stroke="#55a9e1" stroke-width="3.10"/><circle cx="270.69" cy="1349.20" r="1.9" fill="#55a9e1"/>
<circle cx="277.00" cy="1347.70" r="5.25" fill="#fff" stroke="#55a9e1" stroke-width="3.10"/><circle cx="277.00" cy="1347.70" r="1.9" fill="#55a9e1"/>
<circle cx="283.31" cy="1348.50" r="5.25" fill="#fff" stroke="#55a9e1" stroke-width="3.10"/><circle cx="283.31" cy="1348.50" r="1.9" fill="#55a9e1"/>
<circle cx="289.62" cy="1349.20" r="5.25" fill="#fff" stroke="#55a9e1" stroke-width="3.10"/><circle cx="289.62" cy="1349.20" r="1.9" fill="#55a9e1"/>
<circle cx="295.93" cy="1347.70" r="5.25" fill="#fff" stroke="#55a9e1" stroke-width="3.10"/><circle cx="295.93" cy="1347.70" r="1.9" fill="#55a9e1"/>
<circle cx="302.24" cy="1341.90" r="5.25" fill="#fff" stroke="#55a9e1" stroke-width="3.10"/><circle cx="302.24" cy="1341.90" r="1.9" fill="#55a9e1"/>
<circle cx="308.55" cy="1351.40" r="5.25" fill="#fff" stroke="#55a9e1" stroke-width="3.10"/><circle cx="308.55" cy="1351.40" r="1.9" fill="#55a9e1"/>
<circle cx="314.86" cy="1349.20" r="5.25" fill="#fff" stroke="#55a9e1" stroke-width="3.10"/><circle cx="314.86" cy="1349.20" r="1.9" fill="#55a9e1"/>
<circle cx="321.17" cy="1360.10" r="5.25" fill="#fff" stroke="#55a9e1" stroke-width="3.10"/><circle cx="321.17" cy="1360.10" r="1.9" fill="#55a9e1"/>
<circle cx="327.48" cy="1346.30" r="5.25" fill="#fff" stroke="#55a9e1" stroke-width="3.10"/><circle cx="327.48" cy="1346.30" r="1.9" fill="#55a9e1"/>
<circle cx="333.79" cy="1347.00" r="5.25" fill="#fff" stroke="#55a9e1" stroke-width="3.10"/><circle cx="333.79" cy="1347.00" r="1.9" fill="#55a9e1"/>
<circle cx="340.10" cy="1345.10" r="5.25" fill="#fff" stroke="#55a9e1" stroke-width="3.10"/><circle cx="340.10" cy="1345.10" r="1.9" fill="#55a9e1"/>
<circle cx="346.41" cy="1349.20" r="5.25" fill="#fff" stroke="#55a9e1" stroke-width="3.10"/><circle cx="346.41" cy="1349.20" r="1.9" fill="#55a9e1"/>
<circle cx="352.72" cy="1349.20" r="5.25" fill="#fff" stroke="#55a9e1" stroke-width="3.10"/><circle cx="352.72" cy="1349.20" r="1.9" fill="#55a9e1"/>
<circle cx="359.03" cy="1349.20" r="5.25" fill="#fff" stroke="#55a9e1" stroke-width="3.10"/><circle cx="359.03" cy="1349.20" r="1.9" fill="#55a9e1"/>
<circle cx="365.34" cy="1349.20" r="5.25" fill="#fff" stroke="#55a9e1" stroke-width="3.10"/><circle cx="365.34" cy="1349.20" r="1.9" fill="#55a9e1"/>
<circle cx="371.65" cy="1349.90" r="5.25" fill="#fff" stroke="#55a9e1" stroke-width="3.10"/><circle cx="371.65" cy="1349.90" r="1.9" fill="#55a9e1"/>
<circle cx="377.96" cy="1346.30" r="5.25" fill="#fff" stroke="#55a9e1" stroke-width="3.10"/><circle cx="377.96" cy="1346.30" r="1.9" fill="#55a9e1"/>
<circle cx="384.27" cy="1343.40" r="5.25" fill="#fff" stroke="#55a9e1" stroke-width="3.10"/><circle cx="384.27" cy="1343.40" r="1.9" fill="#55a9e1"/>
<circle cx="390.58" cy="1344.80" r="5.25" fill="#fff" stroke="#55a9e1" stroke-width="3.10"/><circle cx="390.58" cy="1344.80" r="1.9" fill="#55a9e1"/>
<circle cx="396.89" cy="1344.80" r="5.25" fill="#fff" stroke="#55a9e1" stroke-width="3.10"/><circle cx="396.89" cy="1344.80" r="1.9" fill="#55a9e1"/>
<circle cx="403.20" cy="1350.70" r="5.25" fill="#fff" stroke="#55a9e1" stroke-width="3.10"/><circle cx="403.20" cy="1350.70" r="1.9" fill="#55a9e1"/>
<circle cx="409.51" cy="1350.70" r="5.25" fill="#fff" stroke="#55a9e1" stroke-width="3.10"/><circle cx="409.51" cy="1350.70" r="1.9" fill="#55a9e1"/>
<circle cx="415.82" cy="1352.80" r="5.25" fill="#fff" stroke="#55a9e1" stroke-width="3.10"/><circle cx="415.82" cy="1352.80" r="1.9" fill="#55a9e1"/>
<circle cx="422.13" cy="1350.70" r="5.25" fill="#fff" stroke="#55a9e1" stroke-width="3.10"/><circle cx="422.13" cy="1350.70" r="1.9" fill="#55a9e1"/>
<circle cx="428.44" cy="1347.00" r="5.25" fill="#fff" stroke="#55a9e1" stroke-width="3.10"/><circle cx="428.44" cy="1347.00" r="1.9" fill="#55a9e1"/>
<circle cx="434.75" cy="1350.70" r="5.25" fill="#fff" stroke="#55a9e1" stroke-width="3.10"/><circle cx="434.75" cy="1350.70" r="1.9" fill="#55a9e1"/>
<circle cx="441.06" cy="1349.90" r="5.25" fill="#fff" stroke="#55a9e1" stroke-width="3.10"/><circle cx="441.06" cy="1349.90" r="1.9" fill="#55a9e1"/>
<circle cx="447.37" cy="1352.80" r="5.25" fill="#fff" stroke="#55a9e1" stroke-width="3.10"/><circle cx="447.37" cy="1352.80" r="1.9" fill="#55a9e1"/>
<circle cx="453.68" cy="1350.70" r="5.25" fill="#fff" stroke="#55a9e1" stroke-width="3.10"/><circle cx="453.68" cy="1350.70" r="1.9" fill="#55a9e1"/>
<circle cx="459.99" cy="1341.20" r="5.25" fill="#fff" stroke="#55a9e1" stroke-width="3.10"/><circle cx="459.99" cy="1341.20" r="1.9" fill="#55a9e1"/>
<circle cx="466.30" cy="1341.90" r="5.25" fill="#fff" stroke="#55a9e1" stroke-width="3.10"/><circle cx="466.30" cy="1341.90" r="1.9" fill="#55a9e1"/>
<circle cx="472.61" cy="1352.10" r="5.25" fill="#fff" stroke="#55a9e1" stroke-width="3.10"/><circle cx="472.61" cy="1352.10" r="1.9" fill="#55a9e1"/>
<circle cx="478.92" cy="1352.80" r="5.25" fill="#fff" stroke="#55a9e1" stroke-width="3.10"/><circle cx="478.92" cy="1352.80" r="1.9" fill="#55a9e1"/>
<circle cx="485.23" cy="1347.00" r="5.25" fill="#fff" stroke="#55a9e1" stroke-width="3.10"/><circle cx="485.23" cy="1347.00" r="1.9" fill="#55a9e1"/>
<circle cx="491.54" cy="1352.10" r="5.25" fill="#fff" stroke="#55a9e1" stroke-width="3.10"/><circle cx="491.54" cy="1352.10" r="1.9" fill="#55a9e1"/>
<circle cx="497.85" cy="1351.40" r="5.25" fill="#fff" stroke="#55a9e1" stroke-width="3.10"/><circle cx="497.85" cy="1351.40" r="1.9" fill="#55a9e1"/>
<circle cx="504.16" cy="1346.30" r="5.25" fill="#fff" stroke="#55a9e1" stroke-width="3.10"/><circle cx="504.16" cy="1346.30" r="1.9" fill="#55a9e1"/>
<circle cx="510.47" cy="1351.40" r="5.25" fill="#fff" stroke="#55a9e1" stroke-width="3.10"/><circle cx="510.47" cy="1351.40" r="1.9" fill="#55a9e1"/>
<circle cx="516.78" cy="1351.40" r="5.25" fill="#fff" stroke="#55a9e1" stroke-width="3.10"/><circle cx="516.78" cy="1351.40" r="1.9" fill="#55a9e1"/>
<circle cx="523.09" cy="1349.90" r="5.25" fill="#fff" stroke="#55a9e1" stroke-width="3.10"/><circle cx="523.09" cy="1349.90" r="1.9" fill="#55a9e1"/>
<circle cx="529.40" cy="1342.60" r="5.25" fill="#fff" stroke="#55a9e1" stroke-width="3.10"/><circle cx="529.40" cy="1342.60" r="1.9" fill="#55a9e1"/>
<circle cx="535.71" cy="1350.70" r="5.25" fill="#fff" stroke="#55a9e1" stroke-width="3.10"/><circle cx="535.71" cy="1350.70" r="1.9" fill="#55a9e1"/>
<circle cx="542.02" cy="1345.50" r="5.25" fill="#fff" stroke="#55a9e1" stroke-width="3.10"/><circle cx="542.02" cy="1345.50" r="1.9" fill="#55a9e1"/>
<circle cx="548.33" cy="1346.30" r="5.25" fill="#fff" stroke="#55a9e1" stroke-width="3.10"/><circle cx="548.33" cy="1346.30" r="1.9" fill="#55a9e1"/>
<circle cx="554.64" cy="1352.80" r="5.25" fill="#fff" stroke="#55a9e1" stroke-width="3.10"/><circle cx="554.64" cy="1352.80" r="1.9" fill="#55a9e1"/>
<circle cx="560.95" cy="1348.50" r="5.25" fill="#fff" stroke="#55a9e1" stroke-width="3.10"/><circle cx="560.95" cy="1348.50" r="1.9" fill="#55a9e1"/>
<circle cx="567.26" cy="1350.70" r="5.25" fill="#fff" stroke="#55a9e1" stroke-width="3.10"/><circle cx="567.26" cy="1350.70" r="1.9" fill="#55a9e1"/>
<circle cx="573.57" cy="1344.80" r="5.25" fill="#fff" stroke="#55a9e1" stroke-width="3.10"/><circle cx="573.57" cy="1344.80" r="1.9" fill="#55a9e1"/>
<circle cx="579.88" cy="1352.80" r="5.25" fill="#fff" stroke="#55a9e1" stroke-width="3.10"/><circle cx="579.88" cy="1352.80" r="1.9" fill="#55a9e1"/>
<circle cx="586.19" cy="1344.80" r="5.25" fill="#fff" stroke="#55a9e1" stroke-width="3.10"/><circle cx="586.19" cy="1344.80" r="1.9" fill="#55a9e1"/>
<circle cx="592.50" cy="1349.90" r="5.25" fill="#fff" stroke="#55a9e1" stroke-width="3.10"/><circle cx="592.50" cy="1349.90" r="1.9" fill="#55a9e1"/>
<circle cx="598.81" cy="1347.70" r="5.25" fill="#fff" stroke="#55a9e1" stroke-width="3.10"/><circle cx="598.81" cy="1347.70" r="1.9" fill="#55a9e1"/>
<circle cx="605.12" cy="1341.90" r="5.25" fill="#fff" stroke="#55a9e1" stroke-width="3.10"/><circle cx="605.12" cy="1341.90" r="1.9" fill="#55a9e1"/>
</g>
<line x1="80.00" y1="1024.00" x2="624.80" y2="1024.00" stroke="#555" stroke-width="1.0" />
<line x1="87.70" y1="1024.00" x2="87.70" y2="1384.20" stroke="#333" stroke-width="1.1" />
<line x1="617.80" y1="1024.00" x2="617.80" y2="1384.20" stroke="#4a4a4a" stroke-width="1.0" />
<line x1="80.00" y1="1384.20" x2="624.80" y2="1384.20" stroke="#333" stroke-width="1.1" />
<line x1="80.00" y1="1384.20" x2="87.70" y2="1384.20" stroke="#555" stroke-width="1.1" />
<text transform="translate(72.20,1389.44) scale(1.15,1)" font-size="14.8" text-anchor="end" fill="#231f20">0</text>
<line x1="80.00" y1="1348.18" x2="87.70" y2="1348.18" stroke="#555" stroke-width="1.1" />
<text transform="translate(72.20,1353.42)" font-size="14.8" text-anchor="end" fill="#231f20">10</text>
<line x1="80.00" y1="1312.16" x2="87.70" y2="1312.16" stroke="#555" stroke-width="1.1" />
<text transform="translate(72.20,1317.40) scale(1.15,1)" font-size="14.8" text-anchor="end" fill="#231f20">20</text>
<line x1="80.00" y1="1276.14" x2="87.70" y2="1276.14" stroke="#555" stroke-width="1.1" />
<text transform="translate(72.20,1281.38) scale(1.15,1)" font-size="14.8" text-anchor="end" fill="#231f20">30</text>
<line x1="80.00" y1="1240.12" x2="87.70" y2="1240.12" stroke="#555" stroke-width="1.1" />
<text transform="translate(72.20,1245.36) scale(1.15,1)" font-size="14.8" text-anchor="end" fill="#231f20">40</text>
<line x1="80.00" y1="1204.10" x2="87.70" y2="1204.10" stroke="#555" stroke-width="1.1" />
<text transform="translate(72.20,1209.34) scale(1.15,1)" font-size="14.8" text-anchor="end" fill="#231f20">50</text>
<line x1="80.00" y1="1168.08" x2="87.70" y2="1168.08" stroke="#555" stroke-width="1.1" />
<text transform="translate(72.20,1173.32) scale(1.15,1)" font-size="14.8" text-anchor="end" fill="#231f20">60</text>
<line x1="80.00" y1="1132.06" x2="87.70" y2="1132.06" stroke="#555" stroke-width="1.1" />
<text transform="translate(72.20,1137.30) scale(1.15,1)" font-size="14.8" text-anchor="end" fill="#231f20">70</text>
<line x1="80.00" y1="1096.04" x2="87.70" y2="1096.04" stroke="#555" stroke-width="1.1" />
<text transform="translate(72.20,1101.28) scale(1.15,1)" font-size="14.8" text-anchor="end" fill="#231f20">80</text>
<line x1="80.00" y1="1060.02" x2="87.70" y2="1060.02" stroke="#555" stroke-width="1.1" />
<text transform="translate(72.20,1065.26) scale(1.15,1)" font-size="14.8" text-anchor="end" fill="#231f20">90</text>
<line x1="80.00" y1="1024.00" x2="87.70" y2="1024.00" stroke="#555" stroke-width="1.1" />
<text transform="translate(72.20,1029.24) scale(1.1,1)" font-size="14.8" text-anchor="end" fill="#231f20">100</text>
<line x1="617.80" y1="1384.20" x2="624.80" y2="1384.20" stroke="#555" stroke-width="1.1" />
<text transform="translate(631.60,1389.44) scale(1.15,1)" font-size="14.8" text-anchor="start" fill="#231f20">0</text>
<line x1="617.80" y1="1348.18" x2="624.80" y2="1348.18" stroke="#555" stroke-width="1.1" />
<text transform="translate(631.60,1353.42) scale(1.15,1)" font-size="14.8" text-anchor="start" fill="#231f20">2</text>
<line x1="617.80" y1="1312.16" x2="624.80" y2="1312.16" stroke="#555" stroke-width="1.1" />
<text transform="translate(631.60,1317.40) scale(1.15,1)" font-size="14.8" text-anchor="start" fill="#231f20">4</text>
<line x1="617.80" y1="1276.14" x2="624.80" y2="1276.14" stroke="#555" stroke-width="1.1" />
<text transform="translate(631.60,1281.38) scale(1.15,1)" font-size="14.8" text-anchor="start" fill="#231f20">6</text>
<line x1="617.80" y1="1240.12" x2="624.80" y2="1240.12" stroke="#555" stroke-width="1.1" />
<text transform="translate(631.60,1245.36) scale(1.15,1)" font-size="14.8" text-anchor="start" fill="#231f20">8</text>
<line x1="617.80" y1="1204.10" x2="624.80" y2="1204.10" stroke="#555" stroke-width="1.1" />
<text transform="translate(631.60,1209.34)" font-size="14.8" text-anchor="start" fill="#231f20">10</text>
<line x1="617.80" y1="1168.08" x2="624.80" y2="1168.08" stroke="#555" stroke-width="1.1" />
<text transform="translate(631.60,1173.32)" font-size="14.8" text-anchor="start" fill="#231f20">12</text>
<line x1="617.80" y1="1132.06" x2="624.80" y2="1132.06" stroke="#555" stroke-width="1.1" />
<text transform="translate(631.60,1137.30)" font-size="14.8" text-anchor="start" fill="#231f20">14</text>
<line x1="617.80" y1="1096.04" x2="624.80" y2="1096.04" stroke="#555" stroke-width="1.1" />
<text transform="translate(631.60,1101.28)" font-size="14.8" text-anchor="start" fill="#231f20">16</text>
<line x1="617.80" y1="1060.02" x2="624.80" y2="1060.02" stroke="#555" stroke-width="1.1" />
<text transform="translate(631.60,1065.26)" font-size="14.8" text-anchor="start" fill="#231f20">18</text>
<line x1="617.80" y1="1024.00" x2="624.80" y2="1024.00" stroke="#555" stroke-width="1.1" />
<text transform="translate(631.60,1029.24) scale(1.15,1)" font-size="14.8" text-anchor="start" fill="#231f20">20</text>
<line x1="87.70" y1="1384.20" x2="87.70" y2="1391.70" stroke="#333" stroke-width="1.1" />
<text transform="translate(87.70,1411.44) scale(1.15,1)" font-size="14.8" text-anchor="middle" fill="#231f20">0</text>
<line x1="138.18" y1="1384.20" x2="138.18" y2="1391.70" stroke="#333" stroke-width="1.1" />
<text transform="translate(138.18,1411.44) scale(1.15,1)" font-size="14.8" text-anchor="middle" fill="#231f20">4</text>
<line x1="188.66" y1="1384.20" x2="188.66" y2="1391.70" stroke="#333" stroke-width="1.1" />
<text transform="translate(188.66,1411.44) scale(1.15,1)" font-size="14.8" text-anchor="middle" fill="#231f20">8</text>
<line x1="239.14" y1="1384.20" x2="239.14" y2="1391.70" stroke="#333" stroke-width="1.1" />
<text transform="translate(239.14,1411.44)" font-size="14.8" text-anchor="middle" fill="#231f20">12</text>
<line x1="289.62" y1="1384.20" x2="289.62" y2="1391.70" stroke="#333" stroke-width="1.1" />
<text transform="translate(289.62,1411.44)" font-size="14.8" text-anchor="middle" fill="#231f20">16</text>
<line x1="340.10" y1="1384.20" x2="340.10" y2="1391.70" stroke="#333" stroke-width="1.1" />
<text transform="translate(340.10,1411.44) scale(1.15,1)" font-size="14.8" text-anchor="middle" fill="#231f20">20</text>
<line x1="390.58" y1="1384.20" x2="390.58" y2="1391.70" stroke="#333" stroke-width="1.1" />
<text transform="translate(390.58,1411.44) scale(1.15,1)" font-size="14.8" text-anchor="middle" fill="#231f20">24</text>
<line x1="441.06" y1="1384.20" x2="441.06" y2="1391.70" stroke="#333" stroke-width="1.1" />
<text transform="translate(441.06,1411.44) scale(1.15,1)" font-size="14.8" text-anchor="middle" fill="#231f20">28</text>
<line x1="491.54" y1="1384.20" x2="491.54" y2="1391.70" stroke="#333" stroke-width="1.1" />
<text transform="translate(491.54,1411.44) scale(1.15,1)" font-size="14.8" text-anchor="middle" fill="#231f20">32</text>
<line x1="542.02" y1="1384.20" x2="542.02" y2="1391.70" stroke="#333" stroke-width="1.1" />
<text transform="translate(542.02,1411.44) scale(1.15,1)" font-size="14.8" text-anchor="middle" fill="#231f20">36</text>
<line x1="592.50" y1="1384.20" x2="592.50" y2="1391.70" stroke="#333" stroke-width="1.1" />
<text transform="translate(592.50,1411.44) scale(1.15,1)" font-size="14.8" text-anchor="middle" fill="#231f20">40</text>
<text x="276.00" y="1442.50" font-size="18" text-anchor="start" fill="#231f20" textLength="154.2" lengthAdjust="spacingAndGlyphs" >Time on stream (h)</text>
<text transform="translate(15.20,1297.60) rotate(-90) scale(1.047,1)" font-size="17.6" text-anchor="start" fill="#231f20">CO<tspan font-size="12.5" dy="4">2</tspan><tspan dy="-4"> conversion and</tspan></text>
<text transform="translate(36.40,1297.60) rotate(-90) scale(1.041,1)" font-size="17.6" text-anchor="start" fill="#231f20">CO/CH<tspan font-size="12.5" dy="4">3</tspan><tspan dy="-4">OH selectivity (%)</tspan></text>
<rect x="5.90" y="1304.30" width="2.70" height="14.40" fill="#111" />
<rect x="18.20" y="1304.30" width="2.70" height="14.40" fill="#ffa54f" />
<rect x="30.40" y="1304.30" width="2.70" height="14.40" fill="#b3b3b3" />
<rect x="672.70" y="1118.00" width="3.00" height="15.00" fill="#55a9e1" />
<text transform="translate(668.00,1141.70) rotate(90) scale(1.034,1)" font-size="17.6" text-anchor="start" fill="#231f20">CH<tspan font-size="12.5" dy="4">4</tspan><tspan dy="-4"> selectivity (%)</tspan></text>
<circle cx="157.70" cy="1042.70" r="6.6" fill="url(#sph)"/>
<text transform="translate(170.60,1048.40) scale(1.095,1)" font-size="16.8" text-anchor="start" fill="#231f20">CO<tspan font-size="12" dy="4">2</tspan><tspan dy="-4"> conversion</tspan></text>
<circle cx="157.80" cy="1074.50" r="5.15" fill="#fff" stroke="#55a9e1" stroke-width="2.90"/><circle cx="157.80" cy="1074.50" r="1.9" fill="#55a9e1"/>
<text transform="translate(170.60,1079.90) scale(1.105,1)" font-size="16.8" text-anchor="start" fill="#231f20">CH<tspan font-size="12" dy="4">4</tspan><tspan dy="-4"> selectivity</tspan></text>
<circle cx="354.00" cy="1042.60" r="6.5" fill="none" stroke="#b3b3b3" stroke-width="3.1"/><path d="M349.05,1042.60H358.95M354.00,1037.65V1047.55" stroke="#b3b3b3" stroke-width="2.63"/>
<text transform="translate(367.80,1048.40) scale(1.098,1)" font-size="16.8" text-anchor="start" fill="#231f20">CO selectivity</text>
<circle cx="353.00" cy="1074.60" r="8.2" fill="#ffa54f"/><path d="M354.10,1070.20A4.4,4.4 0 0 1 354.10,1079.00Z" fill="#fff"/>
<text transform="translate(367.80,1079.90) scale(1.097,1)" font-size="16.8" text-anchor="start" fill="#231f20">CH<tspan font-size="12" dy="4">3</tspan><tspan dy="-4">OH selectivity</tspan></text>
<text transform="translate(0.2,1020.1) scale(1.08,1)" font-size="24" font-weight="bold" fill="#000" stroke="#000" stroke-width="0.9">c</text>
</svg></body></html>
